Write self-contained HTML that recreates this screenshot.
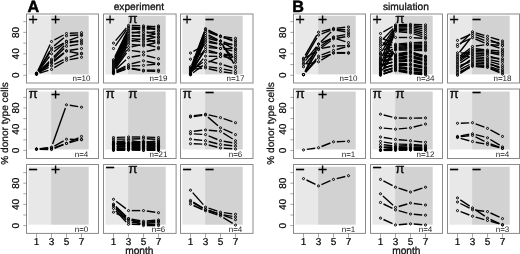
<!DOCTYPE html>
<html><head><meta charset="utf-8"><title>figure</title>
<style>.l{stroke:#000;stroke-width:1.4;fill:none}.c{fill:none;stroke:#000;stroke-width:1.0}html,body{margin:0;padding:0;background:#fff;}body{width:520px;height:254px;overflow:hidden;}</style>
</head><body>
<svg width="520" height="254" viewBox="0 0 520 254" style="display:block;will-change:transform;text-rendering:geometricPrecision">
<rect width="520" height="254" fill="#fff"/>
<rect x="28.40" y="15.75" width="22.70" height="58.65" fill="#e8e8e8"/>
<rect x="51.10" y="15.75" width="37.60" height="58.65" fill="#d2d2d2"/>
<rect x="26.50" y="14.00" width="72.0" height="69.00" fill="none" stroke="#8a8a8a" stroke-width="1"/>
<text x="33.00" y="24.65" font-family="Liberation Sans, sans-serif" font-size="16.5" text-anchor="middle" fill="#000" stroke="#000" stroke-width="0.15">+</text>
<text x="55.60" y="24.65" font-family="Liberation Sans, sans-serif" font-size="16.5" text-anchor="middle" fill="#000" stroke="#000" stroke-width="0.15">+</text>
<path d="M37.9 70.7L50.1 44.5" class="l"/>
<path d="M54.4 39.9L63.6 35.0" class="l"/>
<path d="M69.8 33.3L78.2 32.9" class="l"/>
<path d="M38.1 71.4L49.9 50.8" class="l"/>
<path d="M54.1 45.9L63.9 37.8" class="l"/>
<path d="M69.8 35.5L78.2 35.0" class="l"/>
<path d="M38.3 70.4L49.7 52.9" class="l"/>
<path d="M54.4 48.4L63.6 43.0" class="l"/>
<path d="M69.6 40.2L78.4 36.8" class="l"/>
<path d="M38.5 71.1L49.5 56.5" class="l"/>
<path d="M54.0 51.7L64.0 43.5" class="l"/>
<path d="M69.8 41.5L78.2 41.8" class="l"/>
<path d="M38.8 71.9L49.2 61.5" class="l"/>
<path d="M53.8 56.8L64.2 45.8" class="l"/>
<path d="M69.7 42.7L78.3 40.6" class="l"/>
<path d="M39.0 71.5L49.0 63.0" class="l"/>
<path d="M53.9 58.5L64.1 48.6" class="l"/>
<path d="M69.8 45.8L78.2 44.4" class="l"/>
<path d="M39.1 72.2L48.9 64.5" class="l"/>
<path d="M54.1 60.4L63.9 52.7" class="l"/>
<path d="M69.8 50.2L78.2 49.0" class="l"/>
<path d="M39.3 71.4L48.7 65.3" class="l"/>
<path d="M54.0 61.4L64.0 53.3" class="l"/>
<path d="M69.7 51.7L78.3 53.3" class="l"/>
<path d="M39.4 72.2L48.6 67.4" class="l"/>
<path d="M54.4 64.4L63.6 59.7" class="l"/>
<path d="M69.6 57.1L78.4 54.3" class="l"/>
<path d="M39.6 73.2L48.4 70.4" class="l"/>
<path d="M54.3 67.7L63.7 62.0" class="l"/>
<path d="M69.7 59.6L78.3 58.0" class="l"/>
<circle cx="36.5" cy="73.7" r="1.05" class="c"/>
<circle cx="51.5" cy="41.5" r="1.05" class="c"/>
<circle cx="66.5" cy="33.5" r="1.05" class="c"/>
<circle cx="81.5" cy="32.7" r="1.05" class="c"/>
<circle cx="36.5" cy="74.2" r="1.05" class="c"/>
<circle cx="51.5" cy="47.9" r="1.05" class="c"/>
<circle cx="66.5" cy="35.8" r="1.05" class="c"/>
<circle cx="81.5" cy="34.7" r="1.05" class="c"/>
<circle cx="36.5" cy="73.2" r="1.05" class="c"/>
<circle cx="51.5" cy="50.1" r="1.05" class="c"/>
<circle cx="66.5" cy="41.4" r="1.05" class="c"/>
<circle cx="81.5" cy="35.6" r="1.05" class="c"/>
<circle cx="36.5" cy="73.7" r="1.05" class="c"/>
<circle cx="51.5" cy="53.8" r="1.05" class="c"/>
<circle cx="66.5" cy="41.4" r="1.05" class="c"/>
<circle cx="81.5" cy="41.9" r="1.05" class="c"/>
<circle cx="36.5" cy="74.2" r="1.05" class="c"/>
<circle cx="51.5" cy="59.2" r="1.05" class="c"/>
<circle cx="66.5" cy="43.4" r="1.05" class="c"/>
<circle cx="81.5" cy="39.9" r="1.05" class="c"/>
<circle cx="36.5" cy="73.7" r="1.05" class="c"/>
<circle cx="51.5" cy="60.8" r="1.05" class="c"/>
<circle cx="66.5" cy="46.3" r="1.05" class="c"/>
<circle cx="81.5" cy="43.9" r="1.05" class="c"/>
<circle cx="36.5" cy="74.2" r="1.05" class="c"/>
<circle cx="51.5" cy="62.4" r="1.05" class="c"/>
<circle cx="66.5" cy="50.6" r="1.05" class="c"/>
<circle cx="81.5" cy="48.5" r="1.05" class="c"/>
<circle cx="36.5" cy="73.2" r="1.05" class="c"/>
<circle cx="51.5" cy="63.5" r="1.05" class="c"/>
<circle cx="66.5" cy="51.2" r="1.05" class="c"/>
<circle cx="81.5" cy="53.8" r="1.05" class="c"/>
<circle cx="36.5" cy="73.7" r="1.05" class="c"/>
<circle cx="51.5" cy="65.9" r="1.05" class="c"/>
<circle cx="66.5" cy="58.1" r="1.05" class="c"/>
<circle cx="81.5" cy="53.3" r="1.05" class="c"/>
<circle cx="36.5" cy="74.2" r="1.05" class="c"/>
<circle cx="51.5" cy="69.4" r="1.05" class="c"/>
<circle cx="66.5" cy="60.3" r="1.05" class="c"/>
<circle cx="81.5" cy="57.3" r="1.05" class="c"/>
<text x="81.50" y="81.20" font-family="Liberation Sans, sans-serif" font-size="8" text-anchor="middle" fill="#222">n=10</text>
<line x1="23.30" y1="75.30" x2="26.50" y2="75.30" stroke="#6a6a6a" stroke-width="0.6"/>
<line x1="23.30" y1="64.57" x2="26.50" y2="64.57" stroke="#6a6a6a" stroke-width="0.6"/>
<line x1="23.30" y1="53.84" x2="26.50" y2="53.84" stroke="#6a6a6a" stroke-width="0.6"/>
<line x1="23.30" y1="43.11" x2="26.50" y2="43.11" stroke="#6a6a6a" stroke-width="0.6"/>
<line x1="23.30" y1="32.38" x2="26.50" y2="32.38" stroke="#6a6a6a" stroke-width="0.6"/>
<line x1="23.30" y1="21.65" x2="26.50" y2="21.65" stroke="#6a6a6a" stroke-width="0.6"/>
<text transform="translate(19.30,75.30) rotate(-90)" font-family="Liberation Sans, sans-serif" font-size="10" text-anchor="middle" fill="#000" stroke="#000" stroke-width="0.2">0</text>
<text transform="translate(19.30,53.84) rotate(-90)" font-family="Liberation Sans, sans-serif" font-size="10" text-anchor="middle" fill="#000" stroke="#000" stroke-width="0.2">40</text>
<text transform="translate(19.30,32.38) rotate(-90)" font-family="Liberation Sans, sans-serif" font-size="10" text-anchor="middle" fill="#000" stroke="#000" stroke-width="0.2">80</text>
<rect x="105.40" y="15.75" width="22.70" height="58.65" fill="#e8e8e8"/>
<rect x="128.10" y="15.75" width="37.60" height="58.65" fill="#d2d2d2"/>
<rect x="103.50" y="14.00" width="72.6" height="69.00" fill="none" stroke="#8a8a8a" stroke-width="1"/>
<text x="110.00" y="24.65" font-family="Liberation Sans, sans-serif" font-size="16.5" text-anchor="middle" fill="#000" stroke="#000" stroke-width="0.15">+</text>
<text x="132.80" y="22.50" font-family="Liberation Sans, sans-serif" font-size="13.5" text-anchor="middle" fill="#000" stroke="#000" stroke-width="0.3">π</text>
<path d="M115.6 40.6L126.4 27.9" class="l"/>
<path d="M131.8 25.5L140.2 25.8" class="l"/>
<path d="M146.8 26.2L155.2 26.8" class="l"/>
<path d="M115.4 45.8L126.6 29.7" class="l"/>
<path d="M131.8 27.3L140.2 27.9" class="l"/>
<path d="M146.8 27.6L155.2 26.4" class="l"/>
<path d="M114.9 56.8L127.1 31.6" class="l"/>
<path d="M131.8 28.9L140.2 29.5" class="l"/>
<path d="M146.8 29.3L155.2 28.4" class="l"/>
<path d="M115.0 57.9L127.0 33.2" class="l"/>
<path d="M131.7 29.5L140.3 27.7" class="l"/>
<path d="M146.7 27.7L155.3 29.5" class="l"/>
<path d="M115.0 58.9L127.0 34.8" class="l"/>
<path d="M131.8 32.2L140.2 33.1" class="l"/>
<path d="M146.8 33.0L155.2 31.8" class="l"/>
<path d="M115.0 60.0L127.0 36.4" class="l"/>
<path d="M131.8 33.0L140.2 31.8" class="l"/>
<path d="M146.7 32.0L155.3 33.8" class="l"/>
<path d="M115.0 61.1L127.0 38.0" class="l"/>
<path d="M131.8 35.4L140.2 36.3" class="l"/>
<path d="M146.7 36.0L155.3 34.1" class="l"/>
<path d="M115.0 62.2L127.0 39.6" class="l"/>
<path d="M131.8 36.3L140.2 35.4" class="l"/>
<path d="M146.7 35.6L155.3 37.2" class="l"/>
<path d="M115.1 63.3L126.9 41.2" class="l"/>
<path d="M131.8 38.6L140.2 39.5" class="l"/>
<path d="M146.7 39.2L155.3 37.4" class="l"/>
<path d="M115.1 64.4L126.9 42.8" class="l"/>
<path d="M131.8 40.4L140.2 41.6" class="l"/>
<path d="M146.8 41.6L155.2 40.4" class="l"/>
<path d="M115.1 65.5L126.9 44.9" class="l"/>
<path d="M131.7 41.2L140.3 39.1" class="l"/>
<path d="M146.6 39.3L155.4 42.1" class="l"/>
<path d="M115.2 66.6L126.8 47.0" class="l"/>
<path d="M131.8 44.5L140.2 45.4" class="l"/>
<path d="M146.7 45.0L155.3 42.8" class="l"/>
<path d="M115.3 67.7L126.7 50.2" class="l"/>
<path d="M131.7 46.7L140.3 44.9" class="l"/>
<path d="M146.7 44.9L155.3 46.7" class="l"/>
<path d="M115.4 68.3L126.6 52.8" class="l"/>
<path d="M131.8 50.6L140.2 51.8" class="l"/>
<path d="M146.7 51.5L155.3 49.5" class="l"/>
<path d="M115.9 69.3L126.1 59.8" class="l"/>
<path d="M131.7 57.0L140.3 55.5" class="l"/>
<path d="M146.7 55.7L155.3 57.9" class="l"/>
<path d="M116.5 70.6L125.5 66.0" class="l"/>
<path d="M131.7 63.8L140.3 61.6" class="l"/>
<path d="M146.7 61.5L155.3 63.3" class="l"/>
<path d="M116.5 71.3L125.5 67.5" class="l"/>
<path d="M131.8 66.0L140.2 65.6" class="l"/>
<path d="M146.8 65.1L155.2 64.3" class="l"/>
<path d="M116.6 72.1L125.4 69.1" class="l"/>
<path d="M131.8 68.5L140.2 69.7" class="l"/>
<path d="M146.8 70.2L155.2 70.2" class="l"/>
<path d="M116.6 72.6L125.4 69.4" class="l"/>
<path d="M131.7 68.9L140.3 70.4" class="l"/>
<path d="M146.8 71.1L155.2 71.4" class="l"/>
<circle cx="113.5" cy="43.1" r="1.05" class="c"/>
<circle cx="128.5" cy="25.4" r="1.05" class="c"/>
<circle cx="143.5" cy="25.9" r="1.05" class="c"/>
<circle cx="158.5" cy="27.0" r="1.05" class="c"/>
<circle cx="113.5" cy="48.5" r="1.05" class="c"/>
<circle cx="128.5" cy="27.0" r="1.05" class="c"/>
<circle cx="143.5" cy="28.1" r="1.05" class="c"/>
<circle cx="158.5" cy="25.9" r="1.05" class="c"/>
<circle cx="113.5" cy="59.7" r="1.05" class="c"/>
<circle cx="128.5" cy="28.6" r="1.05" class="c"/>
<circle cx="143.5" cy="29.7" r="1.05" class="c"/>
<circle cx="158.5" cy="28.1" r="1.05" class="c"/>
<circle cx="113.5" cy="60.8" r="1.05" class="c"/>
<circle cx="128.5" cy="30.2" r="1.05" class="c"/>
<circle cx="143.5" cy="27.0" r="1.05" class="c"/>
<circle cx="158.5" cy="30.2" r="1.05" class="c"/>
<circle cx="113.5" cy="61.9" r="1.05" class="c"/>
<circle cx="128.5" cy="31.8" r="1.05" class="c"/>
<circle cx="143.5" cy="33.5" r="1.05" class="c"/>
<circle cx="158.5" cy="31.3" r="1.05" class="c"/>
<circle cx="113.5" cy="63.0" r="1.05" class="c"/>
<circle cx="128.5" cy="33.5" r="1.05" class="c"/>
<circle cx="143.5" cy="31.3" r="1.05" class="c"/>
<circle cx="158.5" cy="34.5" r="1.05" class="c"/>
<circle cx="113.5" cy="64.0" r="1.05" class="c"/>
<circle cx="128.5" cy="35.1" r="1.05" class="c"/>
<circle cx="143.5" cy="36.7" r="1.05" class="c"/>
<circle cx="158.5" cy="33.5" r="1.05" class="c"/>
<circle cx="113.5" cy="65.1" r="1.05" class="c"/>
<circle cx="128.5" cy="36.7" r="1.05" class="c"/>
<circle cx="143.5" cy="35.1" r="1.05" class="c"/>
<circle cx="158.5" cy="37.7" r="1.05" class="c"/>
<circle cx="113.5" cy="66.2" r="1.05" class="c"/>
<circle cx="128.5" cy="38.3" r="1.05" class="c"/>
<circle cx="143.5" cy="39.9" r="1.05" class="c"/>
<circle cx="158.5" cy="36.7" r="1.05" class="c"/>
<circle cx="113.5" cy="67.3" r="1.05" class="c"/>
<circle cx="128.5" cy="39.9" r="1.05" class="c"/>
<circle cx="143.5" cy="42.0" r="1.05" class="c"/>
<circle cx="158.5" cy="39.9" r="1.05" class="c"/>
<circle cx="113.5" cy="68.3" r="1.05" class="c"/>
<circle cx="128.5" cy="42.0" r="1.05" class="c"/>
<circle cx="143.5" cy="38.3" r="1.05" class="c"/>
<circle cx="158.5" cy="43.1" r="1.05" class="c"/>
<circle cx="113.5" cy="69.4" r="1.05" class="c"/>
<circle cx="128.5" cy="44.2" r="1.05" class="c"/>
<circle cx="143.5" cy="45.8" r="1.05" class="c"/>
<circle cx="158.5" cy="42.0" r="1.05" class="c"/>
<circle cx="113.5" cy="70.5" r="1.05" class="c"/>
<circle cx="128.5" cy="47.4" r="1.05" class="c"/>
<circle cx="143.5" cy="44.2" r="1.05" class="c"/>
<circle cx="158.5" cy="47.4" r="1.05" class="c"/>
<circle cx="113.5" cy="71.0" r="1.05" class="c"/>
<circle cx="128.5" cy="50.1" r="1.05" class="c"/>
<circle cx="143.5" cy="52.2" r="1.05" class="c"/>
<circle cx="158.5" cy="48.7" r="1.05" class="c"/>
<circle cx="113.5" cy="71.5" r="1.05" class="c"/>
<circle cx="128.5" cy="57.6" r="1.05" class="c"/>
<circle cx="143.5" cy="54.9" r="1.05" class="c"/>
<circle cx="158.5" cy="58.7" r="1.05" class="c"/>
<circle cx="113.5" cy="72.1" r="1.05" class="c"/>
<circle cx="128.5" cy="64.6" r="1.05" class="c"/>
<circle cx="143.5" cy="60.8" r="1.05" class="c"/>
<circle cx="158.5" cy="64.0" r="1.05" class="c"/>
<circle cx="113.5" cy="72.6" r="1.05" class="c"/>
<circle cx="128.5" cy="66.2" r="1.05" class="c"/>
<circle cx="143.5" cy="65.4" r="1.05" class="c"/>
<circle cx="158.5" cy="64.0" r="1.05" class="c"/>
<circle cx="113.5" cy="73.2" r="1.05" class="c"/>
<circle cx="128.5" cy="68.1" r="1.05" class="c"/>
<circle cx="143.5" cy="70.2" r="1.05" class="c"/>
<circle cx="158.5" cy="70.2" r="1.05" class="c"/>
<circle cx="113.5" cy="73.7" r="1.05" class="c"/>
<circle cx="128.5" cy="68.3" r="1.05" class="c"/>
<circle cx="143.5" cy="71.0" r="1.05" class="c"/>
<circle cx="158.5" cy="71.5" r="1.05" class="c"/>
<text x="158.50" y="81.20" font-family="Liberation Sans, sans-serif" font-size="8" text-anchor="middle" fill="#222">n=19</text>
<rect x="182.40" y="15.75" width="22.70" height="58.65" fill="#e8e8e8"/>
<rect x="205.10" y="15.75" width="37.60" height="58.65" fill="#d2d2d2"/>
<rect x="180.50" y="14.00" width="72.5" height="69.00" fill="none" stroke="#8a8a8a" stroke-width="1"/>
<text x="187.00" y="24.65" font-family="Liberation Sans, sans-serif" font-size="16.5" text-anchor="middle" fill="#000" stroke="#000" stroke-width="0.15">+</text>
<text x="209.60" y="24.65" font-family="Liberation Sans, sans-serif" font-size="16.5" text-anchor="middle" fill="#000" stroke="#000" stroke-width="0.15">−</text>
<path d="M191.7 65.3L204.3 31.7" class="l"/>
<path d="M208.5 30.1L217.5 34.7" class="l"/>
<path d="M223.8 36.6L232.2 37.9" class="l"/>
<path d="M191.6 68.4L204.4 32.8" class="l"/>
<path d="M208.5 31.0L217.5 34.8" class="l"/>
<path d="M223.6 37.3L232.4 40.8" class="l"/>
<path d="M191.7 66.9L204.3 34.4" class="l"/>
<path d="M208.6 32.4L217.4 35.6" class="l"/>
<path d="M223.7 37.5L232.3 39.6" class="l"/>
<path d="M191.7 70.6L204.3 36.5" class="l"/>
<path d="M208.5 34.9L217.5 39.5" class="l"/>
<path d="M223.6 42.0L232.4 45.0" class="l"/>
<path d="M191.7 69.6L204.3 38.7" class="l"/>
<path d="M208.6 36.7L217.4 39.9" class="l"/>
<path d="M222.2 43.8L233.8 63.6" class="l"/>
<path d="M191.9 67.5L204.1 40.7" class="l"/>
<path d="M208.7 38.5L217.3 40.7" class="l"/>
<path d="M223.4 43.1L232.6 48.1" class="l"/>
<path d="M191.8 71.5L204.2 42.9" class="l"/>
<path d="M208.7 40.8L217.3 43.3" class="l"/>
<path d="M223.8 44.2L232.2 44.2" class="l"/>
<path d="M192.2 64.9L203.8 44.9" class="l"/>
<path d="M208.8 42.5L217.2 43.7" class="l"/>
<path d="M222.8 46.6L233.2 57.4" class="l"/>
<path d="M193.4 51.4L202.6 46.3" class="l"/>
<path d="M208.7 45.5L217.3 47.7" class="l"/>
<path d="M223.7 49.1L232.3 50.9" class="l"/>
<path d="M192.1 71.3L203.9 50.3" class="l"/>
<path d="M208.8 47.6L217.2 48.2" class="l"/>
<path d="M223.8 48.5L232.2 48.6" class="l"/>
<path d="M192.3 69.3L203.7 52.3" class="l"/>
<path d="M208.7 50.5L217.3 52.9" class="l"/>
<path d="M223.8 54.2L232.2 55.3" class="l"/>
<path d="M193.5 57.7L202.5 53.2" class="l"/>
<path d="M208.8 52.2L217.2 53.4" class="l"/>
<path d="M223.4 55.5L232.6 60.7" class="l"/>
<path d="M192.7 70.7L203.3 58.6" class="l"/>
<path d="M208.8 56.2L217.2 56.4" class="l"/>
<path d="M223.7 55.9L232.3 54.3" class="l"/>
<path d="M193.2 69.1L202.8 62.2" class="l"/>
<path d="M208.7 61.1L217.3 63.2" class="l"/>
<path d="M223.7 65.0L232.3 67.5" class="l"/>
<path d="M193.1 72.8L202.9 65.5" class="l"/>
<path d="M208.5 62.1L217.5 57.9" class="l"/>
<path d="M223.8 56.8L232.2 57.4" class="l"/>
<path d="M193.8 66.6L202.2 66.5" class="l"/>
<path d="M208.8 66.9L217.2 68.0" class="l"/>
<path d="M223.7 69.1L232.3 70.9" class="l"/>
<path d="M193.8 69.1L202.2 68.2" class="l"/>
<path d="M208.7 68.7L217.3 70.8" class="l"/>
<path d="M223.8 72.0L232.2 73.1" class="l"/>
<circle cx="190.5" cy="68.4" r="1.05" class="c"/>
<circle cx="205.5" cy="28.6" r="1.05" class="c"/>
<circle cx="220.5" cy="36.1" r="1.05" class="c"/>
<circle cx="235.5" cy="38.3" r="1.05" class="c"/>
<circle cx="190.5" cy="71.5" r="1.05" class="c"/>
<circle cx="205.5" cy="29.7" r="1.05" class="c"/>
<circle cx="220.5" cy="36.1" r="1.05" class="c"/>
<circle cx="235.5" cy="42.0" r="1.05" class="c"/>
<circle cx="190.5" cy="69.9" r="1.05" class="c"/>
<circle cx="205.5" cy="31.3" r="1.05" class="c"/>
<circle cx="220.5" cy="36.7" r="1.05" class="c"/>
<circle cx="235.5" cy="40.4" r="1.05" class="c"/>
<circle cx="190.5" cy="73.7" r="1.05" class="c"/>
<circle cx="205.5" cy="33.5" r="1.05" class="c"/>
<circle cx="220.5" cy="41.0" r="1.05" class="c"/>
<circle cx="235.5" cy="46.0" r="1.05" class="c"/>
<circle cx="190.5" cy="72.6" r="1.05" class="c"/>
<circle cx="205.5" cy="35.6" r="1.05" class="c"/>
<circle cx="220.5" cy="41.0" r="1.05" class="c"/>
<circle cx="235.5" cy="66.4" r="1.05" class="c"/>
<circle cx="190.5" cy="70.5" r="1.05" class="c"/>
<circle cx="205.5" cy="37.7" r="1.05" class="c"/>
<circle cx="220.5" cy="41.5" r="1.05" class="c"/>
<circle cx="235.5" cy="49.7" r="1.05" class="c"/>
<circle cx="190.5" cy="74.5" r="1.05" class="c"/>
<circle cx="205.5" cy="39.9" r="1.05" class="c"/>
<circle cx="220.5" cy="44.2" r="1.05" class="c"/>
<circle cx="235.5" cy="44.2" r="1.05" class="c"/>
<circle cx="190.5" cy="67.8" r="1.05" class="c"/>
<circle cx="205.5" cy="42.0" r="1.05" class="c"/>
<circle cx="220.5" cy="44.2" r="1.05" class="c"/>
<circle cx="235.5" cy="59.7" r="1.05" class="c"/>
<circle cx="190.5" cy="53.0" r="1.05" class="c"/>
<circle cx="205.5" cy="44.7" r="1.05" class="c"/>
<circle cx="220.5" cy="48.5" r="1.05" class="c"/>
<circle cx="235.5" cy="51.5" r="1.05" class="c"/>
<circle cx="190.5" cy="74.2" r="1.05" class="c"/>
<circle cx="205.5" cy="47.4" r="1.05" class="c"/>
<circle cx="220.5" cy="48.5" r="1.05" class="c"/>
<circle cx="235.5" cy="48.6" r="1.05" class="c"/>
<circle cx="190.5" cy="72.1" r="1.05" class="c"/>
<circle cx="205.5" cy="49.5" r="1.05" class="c"/>
<circle cx="220.5" cy="53.8" r="1.05" class="c"/>
<circle cx="235.5" cy="55.7" r="1.05" class="c"/>
<circle cx="190.5" cy="59.2" r="1.05" class="c"/>
<circle cx="205.5" cy="51.7" r="1.05" class="c"/>
<circle cx="220.5" cy="53.8" r="1.05" class="c"/>
<circle cx="235.5" cy="62.3" r="1.05" class="c"/>
<circle cx="190.5" cy="73.2" r="1.05" class="c"/>
<circle cx="205.5" cy="56.1" r="1.05" class="c"/>
<circle cx="220.5" cy="56.5" r="1.05" class="c"/>
<circle cx="235.5" cy="53.6" r="1.05" class="c"/>
<circle cx="190.5" cy="71.0" r="1.05" class="c"/>
<circle cx="205.5" cy="60.3" r="1.05" class="c"/>
<circle cx="220.5" cy="64.0" r="1.05" class="c"/>
<circle cx="235.5" cy="68.4" r="1.05" class="c"/>
<circle cx="190.5" cy="74.8" r="1.05" class="c"/>
<circle cx="205.5" cy="63.5" r="1.05" class="c"/>
<circle cx="220.5" cy="56.5" r="1.05" class="c"/>
<circle cx="235.5" cy="57.7" r="1.05" class="c"/>
<circle cx="190.5" cy="66.7" r="1.05" class="c"/>
<circle cx="205.5" cy="66.4" r="1.05" class="c"/>
<circle cx="220.5" cy="68.5" r="1.05" class="c"/>
<circle cx="235.5" cy="71.5" r="1.05" class="c"/>
<circle cx="190.5" cy="69.4" r="1.05" class="c"/>
<circle cx="205.5" cy="67.9" r="1.05" class="c"/>
<circle cx="220.5" cy="71.5" r="1.05" class="c"/>
<circle cx="235.5" cy="73.5" r="1.05" class="c"/>
<text x="235.50" y="81.20" font-family="Liberation Sans, sans-serif" font-size="8" text-anchor="middle" fill="#222">n=17</text>
<rect x="28.40" y="91.57" width="22.70" height="57.93" fill="#e8e8e8"/>
<rect x="51.10" y="91.57" width="37.60" height="57.93" fill="#d2d2d2"/>
<rect x="26.50" y="89.00" width="72.0" height="69.50" fill="none" stroke="#8a8a8a" stroke-width="1"/>
<text x="33.20" y="98.00" font-family="Liberation Sans, sans-serif" font-size="13.5" text-anchor="middle" fill="#000" stroke="#000" stroke-width="0.3">π</text>
<text x="55.60" y="99.85" font-family="Liberation Sans, sans-serif" font-size="16.5" text-anchor="middle" fill="#000" stroke="#000" stroke-width="0.15">+</text>
<path d="M39.8 148.9L48.2 147.6" class="l"/>
<path d="M52.6 144.1L65.4 107.9" class="l"/>
<path d="M69.8 105.3L78.2 106.6" class="l"/>
<path d="M39.8 148.6L48.2 148.0" class="l"/>
<path d="M54.4 146.1L63.6 140.9" class="l"/>
<path d="M69.8 139.3L78.2 139.6" class="l"/>
<path d="M39.8 149.2L48.2 148.9" class="l"/>
<path d="M54.6 147.7L63.4 144.5" class="l"/>
<path d="M69.5 142.0L78.5 137.8" class="l"/>
<path d="M39.8 149.2L48.2 149.5" class="l"/>
<path d="M54.6 148.3L63.4 144.7" class="l"/>
<path d="M69.7 142.6L78.3 140.2" class="l"/>
<circle cx="36.5" cy="149.3" r="1.05" class="c"/>
<circle cx="51.5" cy="147.2" r="1.05" class="c"/>
<circle cx="66.5" cy="104.8" r="1.05" class="c"/>
<circle cx="81.5" cy="107.2" r="1.05" class="c"/>
<circle cx="36.5" cy="148.8" r="1.05" class="c"/>
<circle cx="51.5" cy="147.7" r="1.05" class="c"/>
<circle cx="66.5" cy="139.2" r="1.05" class="c"/>
<circle cx="81.5" cy="139.7" r="1.05" class="c"/>
<circle cx="36.5" cy="149.3" r="1.05" class="c"/>
<circle cx="51.5" cy="148.8" r="1.05" class="c"/>
<circle cx="66.5" cy="143.4" r="1.05" class="c"/>
<circle cx="81.5" cy="136.4" r="1.05" class="c"/>
<circle cx="36.5" cy="149.1" r="1.05" class="c"/>
<circle cx="51.5" cy="149.6" r="1.05" class="c"/>
<circle cx="66.5" cy="143.4" r="1.05" class="c"/>
<circle cx="81.5" cy="139.4" r="1.05" class="c"/>
<text x="81.50" y="156.70" font-family="Liberation Sans, sans-serif" font-size="8" text-anchor="middle" fill="#222">n=4</text>
<line x1="23.30" y1="150.40" x2="26.50" y2="150.40" stroke="#6a6a6a" stroke-width="0.6"/>
<line x1="23.30" y1="139.80" x2="26.50" y2="139.80" stroke="#6a6a6a" stroke-width="0.6"/>
<line x1="23.30" y1="129.20" x2="26.50" y2="129.20" stroke="#6a6a6a" stroke-width="0.6"/>
<line x1="23.30" y1="118.60" x2="26.50" y2="118.60" stroke="#6a6a6a" stroke-width="0.6"/>
<line x1="23.30" y1="108.00" x2="26.50" y2="108.00" stroke="#6a6a6a" stroke-width="0.6"/>
<line x1="23.30" y1="97.40" x2="26.50" y2="97.40" stroke="#6a6a6a" stroke-width="0.6"/>
<text transform="translate(19.30,150.40) rotate(-90)" font-family="Liberation Sans, sans-serif" font-size="10" text-anchor="middle" fill="#000" stroke="#000" stroke-width="0.2">0</text>
<text transform="translate(19.30,129.20) rotate(-90)" font-family="Liberation Sans, sans-serif" font-size="10" text-anchor="middle" fill="#000" stroke="#000" stroke-width="0.2">40</text>
<text transform="translate(19.30,108.00) rotate(-90)" font-family="Liberation Sans, sans-serif" font-size="10" text-anchor="middle" fill="#000" stroke="#000" stroke-width="0.2">80</text>
<rect x="105.40" y="91.57" width="22.70" height="57.93" fill="#e8e8e8"/>
<rect x="128.10" y="91.57" width="37.60" height="57.93" fill="#d2d2d2"/>
<rect x="103.50" y="89.00" width="72.6" height="69.50" fill="none" stroke="#8a8a8a" stroke-width="1"/>
<text x="110.20" y="98.00" font-family="Liberation Sans, sans-serif" font-size="13.5" text-anchor="middle" fill="#000" stroke="#000" stroke-width="0.3">π</text>
<text x="132.80" y="98.00" font-family="Liberation Sans, sans-serif" font-size="13.5" text-anchor="middle" fill="#000" stroke="#000" stroke-width="0.3">π</text>
<path d="M116.8 137.4L125.2 137.1" class="l"/>
<path d="M131.8 137.0L140.2 137.0" class="l"/>
<path d="M146.8 137.1L155.2 137.4" class="l"/>
<path d="M116.8 139.1L125.2 139.1" class="l"/>
<path d="M131.8 139.0L140.2 138.7" class="l"/>
<path d="M146.8 138.8L155.2 139.2" class="l"/>
<path d="M116.8 150.4L125.2 150.3" class="l"/>
<path d="M131.8 150.0L140.2 149.5" class="l"/>
<path d="M146.8 149.5L155.2 150.2" class="l"/>
<path d="M116.8 149.8L125.2 149.7" class="l"/>
<path d="M131.8 149.8L140.2 150.2" class="l"/>
<path d="M146.8 150.3L155.2 150.0" class="l"/>
<path d="M116.8 148.9L125.2 148.7" class="l"/>
<path d="M131.8 149.0L140.2 150.0" class="l"/>
<path d="M146.8 150.3L155.2 150.0" class="l"/>
<path d="M116.8 149.6L125.2 148.5" class="l"/>
<path d="M131.8 148.1L140.2 148.3" class="l"/>
<path d="M146.8 148.7L155.2 149.7" class="l"/>
<path d="M116.8 147.1L125.2 147.1" class="l"/>
<path d="M131.8 147.3L140.2 147.8" class="l"/>
<path d="M146.8 148.0L155.2 148.0" class="l"/>
<path d="M116.8 148.9L125.2 149.1" class="l"/>
<path d="M131.8 148.9L140.2 148.1" class="l"/>
<path d="M146.8 148.1L155.2 148.8" class="l"/>
<path d="M116.8 148.2L125.2 148.1" class="l"/>
<path d="M131.8 148.2L140.2 148.5" class="l"/>
<path d="M146.8 148.4L155.2 147.7" class="l"/>
<path d="M116.8 146.8L125.2 146.2" class="l"/>
<path d="M131.8 146.1L140.2 146.6" class="l"/>
<path d="M146.8 146.7L155.2 146.5" class="l"/>
<path d="M116.8 146.2L125.2 146.0" class="l"/>
<path d="M131.8 146.0L140.2 146.3" class="l"/>
<path d="M146.8 146.6L155.2 146.8" class="l"/>
<path d="M116.8 144.5L125.2 144.5" class="l"/>
<path d="M131.8 144.6L140.2 144.8" class="l"/>
<path d="M146.8 145.0L155.2 145.2" class="l"/>
<path d="M116.8 145.9L125.2 146.0" class="l"/>
<path d="M131.8 146.0L140.2 145.9" class="l"/>
<path d="M146.8 146.0L155.2 146.4" class="l"/>
<path d="M116.8 144.3L125.2 144.9" class="l"/>
<path d="M131.8 144.8L140.2 144.2" class="l"/>
<path d="M146.8 144.2L155.2 144.9" class="l"/>
<path d="M116.8 143.1L125.2 143.3" class="l"/>
<path d="M131.8 143.9L140.2 145.2" class="l"/>
<path d="M146.8 145.5L155.2 145.2" class="l"/>
<path d="M116.8 143.0L125.2 143.6" class="l"/>
<path d="M131.8 143.6L140.2 142.8" class="l"/>
<path d="M146.8 142.9L155.2 143.7" class="l"/>
<path d="M116.8 144.1L125.2 143.3" class="l"/>
<path d="M131.8 142.9L140.2 142.6" class="l"/>
<path d="M146.8 142.9L155.2 143.6" class="l"/>
<path d="M116.8 143.8L125.2 143.4" class="l"/>
<path d="M131.8 142.9L140.2 141.9" class="l"/>
<path d="M146.8 141.7L155.2 142.0" class="l"/>
<path d="M116.8 143.2L125.2 143.0" class="l"/>
<path d="M131.8 143.1L140.2 143.3" class="l"/>
<path d="M146.8 143.4L155.2 143.4" class="l"/>
<path d="M116.8 141.3L125.2 142.3" class="l"/>
<path d="M131.8 142.4L140.2 141.8" class="l"/>
<path d="M146.8 141.7L155.2 141.9" class="l"/>
<path d="M116.8 141.8L125.2 141.0" class="l"/>
<path d="M131.8 141.0L140.2 141.9" class="l"/>
<path d="M146.8 142.0L155.2 141.2" class="l"/>
<circle cx="113.5" cy="137.5" r="1.05" class="c"/>
<circle cx="128.5" cy="137.0" r="1.05" class="c"/>
<circle cx="143.5" cy="137.0" r="1.05" class="c"/>
<circle cx="158.5" cy="137.5" r="1.05" class="c"/>
<circle cx="113.5" cy="139.1" r="1.05" class="c"/>
<circle cx="128.5" cy="139.1" r="1.05" class="c"/>
<circle cx="143.5" cy="138.6" r="1.05" class="c"/>
<circle cx="158.5" cy="139.4" r="1.05" class="c"/>
<circle cx="113.5" cy="150.4" r="1.05" class="c"/>
<circle cx="128.5" cy="150.2" r="1.05" class="c"/>
<circle cx="143.5" cy="149.3" r="1.05" class="c"/>
<circle cx="158.5" cy="150.4" r="1.05" class="c"/>
<circle cx="113.5" cy="149.9" r="1.05" class="c"/>
<circle cx="128.5" cy="149.7" r="1.05" class="c"/>
<circle cx="143.5" cy="150.4" r="1.05" class="c"/>
<circle cx="158.5" cy="149.9" r="1.05" class="c"/>
<circle cx="113.5" cy="149.0" r="1.05" class="c"/>
<circle cx="128.5" cy="148.6" r="1.05" class="c"/>
<circle cx="143.5" cy="150.4" r="1.05" class="c"/>
<circle cx="158.5" cy="149.9" r="1.05" class="c"/>
<circle cx="113.5" cy="150.0" r="1.05" class="c"/>
<circle cx="128.5" cy="148.0" r="1.05" class="c"/>
<circle cx="143.5" cy="148.4" r="1.05" class="c"/>
<circle cx="158.5" cy="150.1" r="1.05" class="c"/>
<circle cx="113.5" cy="147.1" r="1.05" class="c"/>
<circle cx="128.5" cy="147.1" r="1.05" class="c"/>
<circle cx="143.5" cy="148.0" r="1.05" class="c"/>
<circle cx="158.5" cy="148.1" r="1.05" class="c"/>
<circle cx="113.5" cy="148.8" r="1.05" class="c"/>
<circle cx="128.5" cy="149.2" r="1.05" class="c"/>
<circle cx="143.5" cy="147.8" r="1.05" class="c"/>
<circle cx="158.5" cy="149.0" r="1.05" class="c"/>
<circle cx="113.5" cy="148.2" r="1.05" class="c"/>
<circle cx="128.5" cy="148.0" r="1.05" class="c"/>
<circle cx="143.5" cy="148.6" r="1.05" class="c"/>
<circle cx="158.5" cy="147.5" r="1.05" class="c"/>
<circle cx="113.5" cy="147.0" r="1.05" class="c"/>
<circle cx="128.5" cy="145.9" r="1.05" class="c"/>
<circle cx="143.5" cy="146.8" r="1.05" class="c"/>
<circle cx="158.5" cy="146.5" r="1.05" class="c"/>
<circle cx="113.5" cy="146.3" r="1.05" class="c"/>
<circle cx="128.5" cy="145.9" r="1.05" class="c"/>
<circle cx="143.5" cy="146.5" r="1.05" class="c"/>
<circle cx="158.5" cy="146.9" r="1.05" class="c"/>
<circle cx="113.5" cy="144.5" r="1.05" class="c"/>
<circle cx="128.5" cy="144.5" r="1.05" class="c"/>
<circle cx="143.5" cy="144.9" r="1.05" class="c"/>
<circle cx="158.5" cy="145.3" r="1.05" class="c"/>
<circle cx="113.5" cy="145.8" r="1.05" class="c"/>
<circle cx="128.5" cy="146.1" r="1.05" class="c"/>
<circle cx="143.5" cy="145.9" r="1.05" class="c"/>
<circle cx="158.5" cy="146.5" r="1.05" class="c"/>
<circle cx="113.5" cy="144.1" r="1.05" class="c"/>
<circle cx="128.5" cy="145.1" r="1.05" class="c"/>
<circle cx="143.5" cy="143.9" r="1.05" class="c"/>
<circle cx="158.5" cy="145.1" r="1.05" class="c"/>
<circle cx="113.5" cy="143.1" r="1.05" class="c"/>
<circle cx="128.5" cy="143.4" r="1.05" class="c"/>
<circle cx="143.5" cy="145.7" r="1.05" class="c"/>
<circle cx="158.5" cy="145.1" r="1.05" class="c"/>
<circle cx="113.5" cy="142.7" r="1.05" class="c"/>
<circle cx="128.5" cy="143.9" r="1.05" class="c"/>
<circle cx="143.5" cy="142.5" r="1.05" class="c"/>
<circle cx="158.5" cy="144.1" r="1.05" class="c"/>
<circle cx="113.5" cy="144.4" r="1.05" class="c"/>
<circle cx="128.5" cy="143.0" r="1.05" class="c"/>
<circle cx="143.5" cy="142.6" r="1.05" class="c"/>
<circle cx="158.5" cy="143.9" r="1.05" class="c"/>
<circle cx="113.5" cy="143.9" r="1.05" class="c"/>
<circle cx="128.5" cy="143.2" r="1.05" class="c"/>
<circle cx="143.5" cy="141.5" r="1.05" class="c"/>
<circle cx="158.5" cy="142.1" r="1.05" class="c"/>
<circle cx="113.5" cy="143.3" r="1.05" class="c"/>
<circle cx="128.5" cy="143.0" r="1.05" class="c"/>
<circle cx="143.5" cy="143.4" r="1.05" class="c"/>
<circle cx="158.5" cy="143.5" r="1.05" class="c"/>
<circle cx="113.5" cy="141.0" r="1.05" class="c"/>
<circle cx="128.5" cy="142.6" r="1.05" class="c"/>
<circle cx="143.5" cy="141.6" r="1.05" class="c"/>
<circle cx="158.5" cy="141.9" r="1.05" class="c"/>
<circle cx="113.5" cy="142.1" r="1.05" class="c"/>
<circle cx="128.5" cy="140.6" r="1.05" class="c"/>
<circle cx="143.5" cy="142.3" r="1.05" class="c"/>
<circle cx="158.5" cy="140.9" r="1.05" class="c"/>
<text x="158.50" y="156.70" font-family="Liberation Sans, sans-serif" font-size="8" text-anchor="middle" fill="#222">n=21</text>
<rect x="182.40" y="91.57" width="22.70" height="57.93" fill="#e8e8e8"/>
<rect x="205.10" y="91.57" width="37.60" height="57.93" fill="#d2d2d2"/>
<rect x="180.50" y="89.00" width="72.5" height="69.50" fill="none" stroke="#8a8a8a" stroke-width="1"/>
<text x="187.20" y="98.00" font-family="Liberation Sans, sans-serif" font-size="13.5" text-anchor="middle" fill="#000" stroke="#000" stroke-width="0.3">π</text>
<text x="209.60" y="98.45" font-family="Liberation Sans, sans-serif" font-size="16.5" text-anchor="middle" fill="#000" stroke="#000" stroke-width="0.15">−</text>
<path d="M193.8 115.6L202.2 114.6" class="l"/>
<path d="M208.7 114.9L217.3 116.9" class="l"/>
<path d="M223.6 118.7L232.4 121.7" class="l"/>
<path d="M193.8 116.6L202.2 115.4" class="l"/>
<path d="M208.0 117.1L218.0 125.7" class="l"/>
<path d="M223.5 129.2L232.5 133.2" class="l"/>
<path d="M193.8 131.3L202.2 130.3" class="l"/>
<path d="M208.8 130.3L217.2 131.0" class="l"/>
<path d="M223.3 133.1L232.7 139.0" class="l"/>
<path d="M193.8 133.9L202.2 134.4" class="l"/>
<path d="M208.6 135.8L217.4 139.5" class="l"/>
<path d="M223.7 141.3L232.3 142.8" class="l"/>
<path d="M193.8 139.5L202.2 140.4" class="l"/>
<path d="M208.7 141.5L217.3 143.7" class="l"/>
<path d="M223.8 144.8L232.2 145.8" class="l"/>
<path d="M193.8 143.8L202.2 144.1" class="l"/>
<path d="M208.7 145.0L217.3 147.2" class="l"/>
<path d="M223.8 148.2L232.2 148.8" class="l"/>
<circle cx="190.5" cy="116.0" r="1.05" class="c"/>
<circle cx="205.5" cy="114.2" r="1.05" class="c"/>
<circle cx="220.5" cy="117.6" r="1.05" class="c"/>
<circle cx="235.5" cy="122.7" r="1.05" class="c"/>
<circle cx="190.5" cy="117.1" r="1.05" class="c"/>
<circle cx="205.5" cy="115.0" r="1.05" class="c"/>
<circle cx="220.5" cy="127.8" r="1.05" class="c"/>
<circle cx="235.5" cy="134.6" r="1.05" class="c"/>
<circle cx="190.5" cy="131.6" r="1.05" class="c"/>
<circle cx="205.5" cy="130.0" r="1.05" class="c"/>
<circle cx="220.5" cy="131.3" r="1.05" class="c"/>
<circle cx="235.5" cy="140.7" r="1.05" class="c"/>
<circle cx="190.5" cy="133.8" r="1.05" class="c"/>
<circle cx="205.5" cy="134.6" r="1.05" class="c"/>
<circle cx="220.5" cy="140.7" r="1.05" class="c"/>
<circle cx="235.5" cy="143.4" r="1.05" class="c"/>
<circle cx="190.5" cy="139.1" r="1.05" class="c"/>
<circle cx="205.5" cy="140.7" r="1.05" class="c"/>
<circle cx="220.5" cy="144.5" r="1.05" class="c"/>
<circle cx="235.5" cy="146.1" r="1.05" class="c"/>
<circle cx="190.5" cy="143.7" r="1.05" class="c"/>
<circle cx="205.5" cy="144.2" r="1.05" class="c"/>
<circle cx="220.5" cy="148.0" r="1.05" class="c"/>
<circle cx="235.5" cy="149.1" r="1.05" class="c"/>
<text x="235.50" y="156.70" font-family="Liberation Sans, sans-serif" font-size="8" text-anchor="middle" fill="#222">n=6</text>
<rect x="28.40" y="166.77" width="22.70" height="57.93" fill="#e8e8e8"/>
<rect x="51.10" y="166.77" width="37.60" height="57.93" fill="#d2d2d2"/>
<rect x="26.50" y="164.50" width="72.0" height="68.90" fill="none" stroke="#8a8a8a" stroke-width="1"/>
<text x="33.00" y="175.05" font-family="Liberation Sans, sans-serif" font-size="16.5" text-anchor="middle" fill="#000" stroke="#000" stroke-width="0.15">−</text>
<text x="55.60" y="175.05" font-family="Liberation Sans, sans-serif" font-size="16.5" text-anchor="middle" fill="#000" stroke="#000" stroke-width="0.15">+</text>
<text x="81.50" y="231.60" font-family="Liberation Sans, sans-serif" font-size="8" text-anchor="middle" fill="#222">n=0</text>
<line x1="23.30" y1="225.60" x2="26.50" y2="225.60" stroke="#6a6a6a" stroke-width="0.6"/>
<line x1="23.30" y1="215.00" x2="26.50" y2="215.00" stroke="#6a6a6a" stroke-width="0.6"/>
<line x1="23.30" y1="204.40" x2="26.50" y2="204.40" stroke="#6a6a6a" stroke-width="0.6"/>
<line x1="23.30" y1="193.80" x2="26.50" y2="193.80" stroke="#6a6a6a" stroke-width="0.6"/>
<line x1="23.30" y1="183.20" x2="26.50" y2="183.20" stroke="#6a6a6a" stroke-width="0.6"/>
<line x1="23.30" y1="172.60" x2="26.50" y2="172.60" stroke="#6a6a6a" stroke-width="0.6"/>
<text transform="translate(19.30,225.60) rotate(-90)" font-family="Liberation Sans, sans-serif" font-size="10" text-anchor="middle" fill="#000" stroke="#000" stroke-width="0.2">0</text>
<text transform="translate(19.30,204.40) rotate(-90)" font-family="Liberation Sans, sans-serif" font-size="10" text-anchor="middle" fill="#000" stroke="#000" stroke-width="0.2">40</text>
<text transform="translate(19.30,183.20) rotate(-90)" font-family="Liberation Sans, sans-serif" font-size="10" text-anchor="middle" fill="#000" stroke="#000" stroke-width="0.2">80</text>
<line x1="36.50" y1="233.40" x2="36.50" y2="237.60" stroke="#6a6a6a" stroke-width="0.6"/>
<text x="36.50" y="244.90" font-family="Liberation Sans, sans-serif" font-size="10" text-anchor="middle" fill="#000" stroke="#000" stroke-width="0.2">1</text>
<line x1="51.50" y1="233.40" x2="51.50" y2="237.60" stroke="#6a6a6a" stroke-width="0.6"/>
<text x="51.50" y="244.90" font-family="Liberation Sans, sans-serif" font-size="10" text-anchor="middle" fill="#000" stroke="#000" stroke-width="0.2">3</text>
<line x1="66.50" y1="233.40" x2="66.50" y2="237.60" stroke="#6a6a6a" stroke-width="0.6"/>
<text x="66.50" y="244.90" font-family="Liberation Sans, sans-serif" font-size="10" text-anchor="middle" fill="#000" stroke="#000" stroke-width="0.2">5</text>
<line x1="81.50" y1="233.40" x2="81.50" y2="237.60" stroke="#6a6a6a" stroke-width="0.6"/>
<text x="81.50" y="244.90" font-family="Liberation Sans, sans-serif" font-size="10" text-anchor="middle" fill="#000" stroke="#000" stroke-width="0.2">7</text>
<rect x="105.40" y="166.77" width="22.70" height="57.93" fill="#e8e8e8"/>
<rect x="128.10" y="166.77" width="37.60" height="57.93" fill="#d2d2d2"/>
<rect x="103.50" y="164.50" width="72.6" height="68.90" fill="none" stroke="#8a8a8a" stroke-width="1"/>
<text x="110.00" y="173.05" font-family="Liberation Sans, sans-serif" font-size="16.5" text-anchor="middle" fill="#000" stroke="#000" stroke-width="0.15">−</text>
<text x="132.80" y="173.00" font-family="Liberation Sans, sans-serif" font-size="13.5" text-anchor="middle" fill="#000" stroke="#000" stroke-width="0.3">π</text>
<path d="M116.1 201.3L125.9 208.6" class="l"/>
<path d="M131.8 210.6L140.2 210.6" class="l"/>
<path d="M146.8 211.0L155.2 212.2" class="l"/>
<path d="M115.9 206.4L126.1 216.3" class="l"/>
<path d="M131.7 219.2L140.3 220.7" class="l"/>
<path d="M146.8 221.0L155.2 220.3" class="l"/>
<path d="M115.9 207.5L126.1 217.6" class="l"/>
<path d="M131.8 220.5L140.2 221.9" class="l"/>
<path d="M146.8 222.1L155.2 221.5" class="l"/>
<path d="M115.8 208.7L126.2 219.7" class="l"/>
<path d="M131.8 222.4L140.2 223.2" class="l"/>
<path d="M146.8 223.2L155.2 222.4" class="l"/>
<path d="M115.8 210.8L126.2 221.9" class="l"/>
<path d="M131.8 224.3L140.2 224.5" class="l"/>
<path d="M146.8 224.5L155.2 224.3" class="l"/>
<path d="M116.5 213.5L125.5 217.3" class="l"/>
<path d="M131.5 220.0L140.5 224.2" class="l"/>
<path d="M146.8 225.6L155.2 225.6" class="l"/>
<circle cx="113.5" cy="199.3" r="1.05" class="c"/>
<circle cx="128.5" cy="210.6" r="1.05" class="c"/>
<circle cx="143.5" cy="210.6" r="1.05" class="c"/>
<circle cx="158.5" cy="212.7" r="1.05" class="c"/>
<circle cx="113.5" cy="204.1" r="1.05" class="c"/>
<circle cx="128.5" cy="218.6" r="1.05" class="c"/>
<circle cx="143.5" cy="221.3" r="1.05" class="c"/>
<circle cx="158.5" cy="220.0" r="1.05" class="c"/>
<circle cx="113.5" cy="205.2" r="1.05" class="c"/>
<circle cx="128.5" cy="220.0" r="1.05" class="c"/>
<circle cx="143.5" cy="222.4" r="1.05" class="c"/>
<circle cx="158.5" cy="221.3" r="1.05" class="c"/>
<circle cx="113.5" cy="206.3" r="1.05" class="c"/>
<circle cx="128.5" cy="222.1" r="1.05" class="c"/>
<circle cx="143.5" cy="223.5" r="1.05" class="c"/>
<circle cx="158.5" cy="222.1" r="1.05" class="c"/>
<circle cx="113.5" cy="208.4" r="1.05" class="c"/>
<circle cx="128.5" cy="224.3" r="1.05" class="c"/>
<circle cx="143.5" cy="224.5" r="1.05" class="c"/>
<circle cx="158.5" cy="224.3" r="1.05" class="c"/>
<circle cx="113.5" cy="212.2" r="1.05" class="c"/>
<circle cx="128.5" cy="218.6" r="1.05" class="c"/>
<circle cx="143.5" cy="225.6" r="1.05" class="c"/>
<circle cx="158.5" cy="225.6" r="1.05" class="c"/>
<text x="158.50" y="231.60" font-family="Liberation Sans, sans-serif" font-size="8" text-anchor="middle" fill="#222">n=6</text>
<line x1="113.50" y1="233.40" x2="113.50" y2="237.60" stroke="#6a6a6a" stroke-width="0.6"/>
<text x="113.50" y="244.90" font-family="Liberation Sans, sans-serif" font-size="10" text-anchor="middle" fill="#000" stroke="#000" stroke-width="0.2">1</text>
<line x1="128.50" y1="233.40" x2="128.50" y2="237.60" stroke="#6a6a6a" stroke-width="0.6"/>
<text x="128.50" y="244.90" font-family="Liberation Sans, sans-serif" font-size="10" text-anchor="middle" fill="#000" stroke="#000" stroke-width="0.2">3</text>
<line x1="143.50" y1="233.40" x2="143.50" y2="237.60" stroke="#6a6a6a" stroke-width="0.6"/>
<text x="143.50" y="244.90" font-family="Liberation Sans, sans-serif" font-size="10" text-anchor="middle" fill="#000" stroke="#000" stroke-width="0.2">5</text>
<line x1="158.50" y1="233.40" x2="158.50" y2="237.60" stroke="#6a6a6a" stroke-width="0.6"/>
<text x="158.50" y="244.90" font-family="Liberation Sans, sans-serif" font-size="10" text-anchor="middle" fill="#000" stroke="#000" stroke-width="0.2">7</text>
<rect x="182.40" y="166.77" width="22.70" height="57.93" fill="#e8e8e8"/>
<rect x="205.10" y="166.77" width="37.60" height="57.93" fill="#d2d2d2"/>
<rect x="180.50" y="164.50" width="72.5" height="68.90" fill="none" stroke="#8a8a8a" stroke-width="1"/>
<text x="187.00" y="175.05" font-family="Liberation Sans, sans-serif" font-size="16.5" text-anchor="middle" fill="#000" stroke="#000" stroke-width="0.15">−</text>
<text x="209.60" y="175.05" font-family="Liberation Sans, sans-serif" font-size="16.5" text-anchor="middle" fill="#000" stroke="#000" stroke-width="0.15">−</text>
<path d="M192.7 192.6L203.3 204.6" class="l"/>
<path d="M208.6 208.1L217.4 211.1" class="l"/>
<path d="M223.8 212.6L232.2 213.9" class="l"/>
<path d="M193.3 202.1L202.7 207.8" class="l"/>
<path d="M208.6 210.5L217.4 213.3" class="l"/>
<path d="M223.7 214.9L232.3 216.4" class="l"/>
<path d="M193.4 203.2L202.6 208.0" class="l"/>
<path d="M208.6 210.5L217.4 213.3" class="l"/>
<path d="M223.6 215.4L232.4 218.6" class="l"/>
<path d="M193.5 205.5L202.5 209.5" class="l"/>
<path d="M208.6 211.9L217.4 214.9" class="l"/>
<path d="M223.3 217.6L232.7 223.3" class="l"/>
<circle cx="190.5" cy="190.2" r="1.05" class="c"/>
<circle cx="205.5" cy="207.1" r="1.05" class="c"/>
<circle cx="220.5" cy="212.2" r="1.05" class="c"/>
<circle cx="235.5" cy="214.3" r="1.05" class="c"/>
<circle cx="190.5" cy="200.4" r="1.05" class="c"/>
<circle cx="205.5" cy="209.5" r="1.05" class="c"/>
<circle cx="220.5" cy="214.3" r="1.05" class="c"/>
<circle cx="235.5" cy="217.0" r="1.05" class="c"/>
<circle cx="190.5" cy="201.7" r="1.05" class="c"/>
<circle cx="205.5" cy="209.5" r="1.05" class="c"/>
<circle cx="220.5" cy="214.3" r="1.05" class="c"/>
<circle cx="235.5" cy="219.7" r="1.05" class="c"/>
<circle cx="190.5" cy="204.1" r="1.05" class="c"/>
<circle cx="205.5" cy="210.8" r="1.05" class="c"/>
<circle cx="220.5" cy="215.9" r="1.05" class="c"/>
<circle cx="235.5" cy="225.1" r="1.05" class="c"/>
<text x="235.50" y="231.60" font-family="Liberation Sans, sans-serif" font-size="8" text-anchor="middle" fill="#222">n=4</text>
<line x1="190.50" y1="233.40" x2="190.50" y2="237.60" stroke="#6a6a6a" stroke-width="0.6"/>
<text x="190.50" y="244.90" font-family="Liberation Sans, sans-serif" font-size="10" text-anchor="middle" fill="#000" stroke="#000" stroke-width="0.2">1</text>
<line x1="205.50" y1="233.40" x2="205.50" y2="237.60" stroke="#6a6a6a" stroke-width="0.6"/>
<text x="205.50" y="244.90" font-family="Liberation Sans, sans-serif" font-size="10" text-anchor="middle" fill="#000" stroke="#000" stroke-width="0.2">3</text>
<line x1="220.50" y1="233.40" x2="220.50" y2="237.60" stroke="#6a6a6a" stroke-width="0.6"/>
<text x="220.50" y="244.90" font-family="Liberation Sans, sans-serif" font-size="10" text-anchor="middle" fill="#000" stroke="#000" stroke-width="0.2">5</text>
<line x1="235.50" y1="233.40" x2="235.50" y2="237.60" stroke="#6a6a6a" stroke-width="0.6"/>
<text x="235.50" y="244.90" font-family="Liberation Sans, sans-serif" font-size="10" text-anchor="middle" fill="#000" stroke="#000" stroke-width="0.2">7</text>
<text x="27.40" y="11.6" font-family="Liberation Sans, sans-serif" font-size="16.2" font-weight="bold" fill="#000" stroke="#000" stroke-width="0.5">A</text>
<text x="138.90" y="10.2" font-family="Liberation Sans, sans-serif" font-size="10.2" text-anchor="middle" fill="#111" stroke="#111" stroke-width="0.3">experiment</text>
<text x="139.35" y="254" font-family="Liberation Sans, sans-serif" font-size="10.2" text-anchor="middle" fill="#111" stroke="#111" stroke-width="0.3">month</text>
<text transform="translate(7.60,123.5) rotate(-90)" font-family="Liberation Sans, sans-serif" font-size="10.1" stroke="#111" stroke-width="0.25" text-anchor="middle" fill="#111">% donor type cells</text>
<rect x="295.40" y="15.75" width="22.70" height="58.65" fill="#e8e8e8"/>
<rect x="318.10" y="15.75" width="37.60" height="58.65" fill="#d2d2d2"/>
<rect x="293.50" y="14.00" width="72.0" height="69.00" fill="none" stroke="#8a8a8a" stroke-width="1"/>
<text x="300.00" y="24.65" font-family="Liberation Sans, sans-serif" font-size="16.5" text-anchor="middle" fill="#000" stroke="#000" stroke-width="0.15">+</text>
<text x="322.60" y="24.65" font-family="Liberation Sans, sans-serif" font-size="16.5" text-anchor="middle" fill="#000" stroke="#000" stroke-width="0.15">+</text>
<path d="M305.2 55.3L316.8 35.1" class="l"/>
<path d="M321.7 31.4L330.3 29.2" class="l"/>
<path d="M336.8 28.1L345.2 27.3" class="l"/>
<path d="M305.1 58.2L316.9 37.9" class="l"/>
<path d="M321.6 33.9L330.4 30.4" class="l"/>
<path d="M336.8 29.3L345.2 29.7" class="l"/>
<path d="M305.5 60.6L316.5 46.6" class="l"/>
<path d="M320.9 41.7L331.1 32.0" class="l"/>
<path d="M336.7 30.3L345.3 31.8" class="l"/>
<path d="M305.5 64.2L316.5 50.2" class="l"/>
<path d="M321.2 45.7L330.8 38.9" class="l"/>
<path d="M336.7 36.3L345.3 34.6" class="l"/>
<path d="M306.3 57.4L315.7 51.5" class="l"/>
<path d="M321.2 47.8L330.8 40.8" class="l"/>
<path d="M336.8 38.3L345.2 36.8" class="l"/>
<path d="M305.0 71.6L317.0 47.1" class="l"/>
<path d="M321.5 42.9L330.5 39.0" class="l"/>
<path d="M336.6 38.8L345.4 41.6" class="l"/>
<path d="M305.2 71.8L316.8 51.9" class="l"/>
<path d="M321.7 48.4L330.3 46.7" class="l"/>
<path d="M336.8 46.0L345.2 45.6" class="l"/>
<path d="M305.6 72.0L316.4 58.7" class="l"/>
<path d="M321.6 54.9L330.4 51.6" class="l"/>
<path d="M336.7 49.5L345.3 47.0" class="l"/>
<path d="M305.7 72.2L316.3 60.6" class="l"/>
<path d="M321.6 57.2L330.4 54.3" class="l"/>
<path d="M336.8 53.2L345.2 53.2" class="l"/>
<path d="M306.7 64.0L315.3 62.4" class="l"/>
<path d="M321.3 60.1L330.7 54.3" class="l"/>
<path d="M336.8 52.6L345.2 52.6" class="l"/>
<circle cx="303.5" cy="58.2" r="1.05" class="c"/>
<circle cx="318.5" cy="32.2" r="1.05" class="c"/>
<circle cx="333.5" cy="28.4" r="1.05" class="c"/>
<circle cx="348.5" cy="27.0" r="1.05" class="c"/>
<circle cx="303.5" cy="61.1" r="1.05" class="c"/>
<circle cx="318.5" cy="35.1" r="1.05" class="c"/>
<circle cx="333.5" cy="29.2" r="1.05" class="c"/>
<circle cx="348.5" cy="29.8" r="1.05" class="c"/>
<circle cx="303.5" cy="63.2" r="1.05" class="c"/>
<circle cx="318.5" cy="44.0" r="1.05" class="c"/>
<circle cx="333.5" cy="29.7" r="1.05" class="c"/>
<circle cx="348.5" cy="32.4" r="1.05" class="c"/>
<circle cx="303.5" cy="66.8" r="1.05" class="c"/>
<circle cx="318.5" cy="47.6" r="1.05" class="c"/>
<circle cx="333.5" cy="36.9" r="1.05" class="c"/>
<circle cx="348.5" cy="34.0" r="1.05" class="c"/>
<circle cx="303.5" cy="59.2" r="1.05" class="c"/>
<circle cx="318.5" cy="49.7" r="1.05" class="c"/>
<circle cx="333.5" cy="38.8" r="1.05" class="c"/>
<circle cx="348.5" cy="36.2" r="1.05" class="c"/>
<circle cx="303.5" cy="74.6" r="1.05" class="c"/>
<circle cx="318.5" cy="44.2" r="1.05" class="c"/>
<circle cx="333.5" cy="37.7" r="1.05" class="c"/>
<circle cx="348.5" cy="42.6" r="1.05" class="c"/>
<circle cx="303.5" cy="74.6" r="1.05" class="c"/>
<circle cx="318.5" cy="49.0" r="1.05" class="c"/>
<circle cx="333.5" cy="46.1" r="1.05" class="c"/>
<circle cx="348.5" cy="45.5" r="1.05" class="c"/>
<circle cx="303.5" cy="74.6" r="1.05" class="c"/>
<circle cx="318.5" cy="56.1" r="1.05" class="c"/>
<circle cx="333.5" cy="50.4" r="1.05" class="c"/>
<circle cx="348.5" cy="46.1" r="1.05" class="c"/>
<circle cx="303.5" cy="74.6" r="1.05" class="c"/>
<circle cx="318.5" cy="58.2" r="1.05" class="c"/>
<circle cx="333.5" cy="53.2" r="1.05" class="c"/>
<circle cx="348.5" cy="53.2" r="1.05" class="c"/>
<circle cx="303.5" cy="64.6" r="1.05" class="c"/>
<circle cx="318.5" cy="61.8" r="1.05" class="c"/>
<circle cx="333.5" cy="52.6" r="1.05" class="c"/>
<circle cx="348.5" cy="52.6" r="1.05" class="c"/>
<text x="348.50" y="81.20" font-family="Liberation Sans, sans-serif" font-size="8" text-anchor="middle" fill="#222">n=10</text>
<line x1="290.30" y1="75.30" x2="293.50" y2="75.30" stroke="#6a6a6a" stroke-width="0.6"/>
<line x1="290.30" y1="64.57" x2="293.50" y2="64.57" stroke="#6a6a6a" stroke-width="0.6"/>
<line x1="290.30" y1="53.84" x2="293.50" y2="53.84" stroke="#6a6a6a" stroke-width="0.6"/>
<line x1="290.30" y1="43.11" x2="293.50" y2="43.11" stroke="#6a6a6a" stroke-width="0.6"/>
<line x1="290.30" y1="32.38" x2="293.50" y2="32.38" stroke="#6a6a6a" stroke-width="0.6"/>
<line x1="290.30" y1="21.65" x2="293.50" y2="21.65" stroke="#6a6a6a" stroke-width="0.6"/>
<text transform="translate(286.30,75.30) rotate(-90)" font-family="Liberation Sans, sans-serif" font-size="10" text-anchor="middle" fill="#000" stroke="#000" stroke-width="0.2">0</text>
<text transform="translate(286.30,53.84) rotate(-90)" font-family="Liberation Sans, sans-serif" font-size="10" text-anchor="middle" fill="#000" stroke="#000" stroke-width="0.2">40</text>
<text transform="translate(286.30,32.38) rotate(-90)" font-family="Liberation Sans, sans-serif" font-size="10" text-anchor="middle" fill="#000" stroke="#000" stroke-width="0.2">80</text>
<rect x="372.40" y="15.75" width="22.70" height="58.65" fill="#e8e8e8"/>
<rect x="395.10" y="15.75" width="37.60" height="58.65" fill="#d2d2d2"/>
<rect x="370.50" y="14.00" width="72.0" height="69.00" fill="none" stroke="#8a8a8a" stroke-width="1"/>
<text x="377.00" y="24.65" font-family="Liberation Sans, sans-serif" font-size="16.5" text-anchor="middle" fill="#000" stroke="#000" stroke-width="0.15">+</text>
<text x="399.80" y="22.50" font-family="Liberation Sans, sans-serif" font-size="13.5" text-anchor="middle" fill="#000" stroke="#000" stroke-width="0.3">π</text>
<path d="M383.4 31.8L392.6 26.5" class="l"/>
<path d="M398.8 24.8L407.2 24.5" class="l"/>
<path d="M413.8 24.5L422.2 24.8" class="l"/>
<path d="M382.7 39.6L393.3 28.4" class="l"/>
<path d="M398.8 25.8L407.2 25.5" class="l"/>
<path d="M413.8 25.8L422.2 26.7" class="l"/>
<path d="M382.4 45.8L393.6 29.7" class="l"/>
<path d="M398.8 26.9L407.2 26.6" class="l"/>
<path d="M413.7 27.1L422.3 28.6" class="l"/>
<path d="M382.2 51.0L393.8 30.9" class="l"/>
<path d="M398.8 28.1L407.2 28.1" class="l"/>
<path d="M413.7 28.8L422.3 30.6" class="l"/>
<path d="M382.0 56.3L394.0 32.1" class="l"/>
<path d="M398.8 29.3L407.2 29.6" class="l"/>
<path d="M413.7 30.5L422.3 32.7" class="l"/>
<path d="M381.8 61.5L394.2 33.3" class="l"/>
<path d="M398.8 30.5L407.2 31.1" class="l"/>
<path d="M413.7 32.2L422.3 34.7" class="l"/>
<path d="M381.7 66.9L394.3 34.4" class="l"/>
<path d="M398.8 31.7L407.2 32.6" class="l"/>
<path d="M413.6 33.9L422.4 36.7" class="l"/>
<path d="M383.3 44.7L392.7 39.2" class="l"/>
<path d="M398.8 37.5L407.2 37.5" class="l"/>
<path d="M413.8 37.7L422.2 38.3" class="l"/>
<path d="M383.5 39.0L392.5 42.9" class="l"/>
<path d="M398.8 43.9L407.2 43.1" class="l"/>
<path d="M413.8 42.7L422.2 42.2" class="l"/>
<path d="M383.8 44.4L392.2 45.0" class="l"/>
<path d="M398.8 45.0L407.2 44.4" class="l"/>
<path d="M413.8 44.1L422.2 43.8" class="l"/>
<path d="M383.7 49.7L392.3 47.2" class="l"/>
<path d="M398.8 46.1L407.2 45.5" class="l"/>
<path d="M413.8 45.3L422.2 45.3" class="l"/>
<path d="M383.3 55.3L392.7 49.2" class="l"/>
<path d="M398.8 47.2L407.2 46.6" class="l"/>
<path d="M413.8 46.3L422.2 46.3" class="l"/>
<path d="M382.8 61.2L393.2 50.8" class="l"/>
<path d="M398.8 48.2L407.2 47.6" class="l"/>
<path d="M413.8 47.5L422.2 47.8" class="l"/>
<path d="M382.5 66.3L393.5 52.2" class="l"/>
<path d="M398.8 49.3L407.2 48.7" class="l"/>
<path d="M413.8 48.7L422.2 49.3" class="l"/>
<path d="M382.3 70.4L393.7 52.9" class="l"/>
<path d="M398.8 50.1L407.2 50.1" class="l"/>
<path d="M413.8 50.2L422.2 50.5" class="l"/>
<path d="M383.8 53.0L392.2 53.6" class="l"/>
<path d="M398.8 53.4L407.2 52.2" class="l"/>
<path d="M413.6 52.7L422.4 55.5" class="l"/>
<path d="M382.7 42.4L393.3 54.3" class="l"/>
<path d="M398.7 56.1L407.3 54.3" class="l"/>
<path d="M413.7 54.6L422.3 57.0" class="l"/>
<path d="M383.8 55.1L392.2 55.8" class="l"/>
<path d="M398.7 55.3L407.3 53.5" class="l"/>
<path d="M413.7 53.7L422.3 56.2" class="l"/>
<path d="M383.7 57.5L392.3 55.9" class="l"/>
<path d="M398.7 54.5L407.3 52.6" class="l"/>
<path d="M413.7 52.8L422.3 55.3" class="l"/>
<path d="M383.8 60.1L392.2 59.6" class="l"/>
<path d="M398.8 59.0L407.2 57.9" class="l"/>
<path d="M413.7 58.2L422.3 60.3" class="l"/>
<path d="M383.7 60.8L392.3 59.2" class="l"/>
<path d="M398.8 58.2L407.2 57.0" class="l"/>
<path d="M413.7 57.3L422.3 59.5" class="l"/>
<path d="M383.7 61.5L392.3 58.9" class="l"/>
<path d="M398.8 57.4L407.2 56.1" class="l"/>
<path d="M413.7 56.4L422.3 58.7" class="l"/>
<path d="M383.8 63.6L392.2 62.5" class="l"/>
<path d="M398.8 61.9L407.2 61.4" class="l"/>
<path d="M413.7 62.0L422.3 64.1" class="l"/>
<path d="M383.7 64.7L392.3 62.3" class="l"/>
<path d="M398.8 61.1L407.2 60.5" class="l"/>
<path d="M413.7 61.1L422.3 63.2" class="l"/>
<path d="M383.6 65.5L392.4 61.8" class="l"/>
<path d="M398.8 60.3L407.2 59.6" class="l"/>
<path d="M413.7 60.2L422.3 62.4" class="l"/>
<path d="M383.8 67.3L392.2 65.9" class="l"/>
<path d="M398.8 65.4L407.2 65.4" class="l"/>
<path d="M413.7 66.2L422.3 67.9" class="l"/>
<path d="M383.7 68.0L392.3 65.5" class="l"/>
<path d="M398.8 64.6L407.2 64.6" class="l"/>
<path d="M413.7 65.3L422.3 67.1" class="l"/>
<path d="M383.6 68.7L392.4 65.1" class="l"/>
<path d="M398.8 63.8L407.2 63.7" class="l"/>
<path d="M413.7 64.4L422.3 66.3" class="l"/>
<path d="M383.7 70.4L392.3 68.7" class="l"/>
<path d="M398.8 68.4L407.2 69.4" class="l"/>
<path d="M413.8 70.2L422.2 71.4" class="l"/>
<path d="M383.6 71.1L392.4 68.3" class="l"/>
<path d="M398.8 67.6L407.2 68.5" class="l"/>
<path d="M413.8 69.3L422.2 70.5" class="l"/>
<path d="M383.5 71.8L392.5 67.8" class="l"/>
<path d="M398.8 66.8L407.2 67.6" class="l"/>
<path d="M413.8 68.4L422.2 69.7" class="l"/>
<path d="M383.7 73.5L392.3 71.4" class="l"/>
<path d="M398.7 71.3L407.3 72.9" class="l"/>
<path d="M413.8 73.8L422.2 74.5" class="l"/>
<path d="M383.6 73.8L392.4 70.9" class="l"/>
<path d="M398.7 70.5L407.3 72.0" class="l"/>
<path d="M413.8 72.9L422.2 73.7" class="l"/>
<path d="M383.6 74.1L392.4 70.4" class="l"/>
<path d="M398.8 69.7L407.2 71.2" class="l"/>
<path d="M413.8 72.0L422.2 72.8" class="l"/>
<circle cx="380.5" cy="33.5" r="1.05" class="c"/>
<circle cx="395.5" cy="24.9" r="1.05" class="c"/>
<circle cx="410.5" cy="24.3" r="1.05" class="c"/>
<circle cx="425.5" cy="24.9" r="1.05" class="c"/>
<circle cx="380.5" cy="42.0" r="1.05" class="c"/>
<circle cx="395.5" cy="25.9" r="1.05" class="c"/>
<circle cx="410.5" cy="25.4" r="1.05" class="c"/>
<circle cx="425.5" cy="27.0" r="1.05" class="c"/>
<circle cx="380.5" cy="48.5" r="1.05" class="c"/>
<circle cx="395.5" cy="27.0" r="1.05" class="c"/>
<circle cx="410.5" cy="26.5" r="1.05" class="c"/>
<circle cx="425.5" cy="29.2" r="1.05" class="c"/>
<circle cx="380.5" cy="53.8" r="1.05" class="c"/>
<circle cx="395.5" cy="28.1" r="1.05" class="c"/>
<circle cx="410.5" cy="28.1" r="1.05" class="c"/>
<circle cx="425.5" cy="31.3" r="1.05" class="c"/>
<circle cx="380.5" cy="59.2" r="1.05" class="c"/>
<circle cx="395.5" cy="29.2" r="1.05" class="c"/>
<circle cx="410.5" cy="29.7" r="1.05" class="c"/>
<circle cx="425.5" cy="33.5" r="1.05" class="c"/>
<circle cx="380.5" cy="64.6" r="1.05" class="c"/>
<circle cx="395.5" cy="30.2" r="1.05" class="c"/>
<circle cx="410.5" cy="31.3" r="1.05" class="c"/>
<circle cx="425.5" cy="35.6" r="1.05" class="c"/>
<circle cx="380.5" cy="69.9" r="1.05" class="c"/>
<circle cx="395.5" cy="31.3" r="1.05" class="c"/>
<circle cx="410.5" cy="32.9" r="1.05" class="c"/>
<circle cx="425.5" cy="37.7" r="1.05" class="c"/>
<circle cx="380.5" cy="46.3" r="1.05" class="c"/>
<circle cx="395.5" cy="37.5" r="1.05" class="c"/>
<circle cx="410.5" cy="37.5" r="1.05" class="c"/>
<circle cx="425.5" cy="38.5" r="1.05" class="c"/>
<circle cx="380.5" cy="37.7" r="1.05" class="c"/>
<circle cx="395.5" cy="44.2" r="1.05" class="c"/>
<circle cx="410.5" cy="42.8" r="1.05" class="c"/>
<circle cx="425.5" cy="42.0" r="1.05" class="c"/>
<circle cx="380.5" cy="44.2" r="1.05" class="c"/>
<circle cx="395.5" cy="45.3" r="1.05" class="c"/>
<circle cx="410.5" cy="44.2" r="1.05" class="c"/>
<circle cx="425.5" cy="43.6" r="1.05" class="c"/>
<circle cx="380.5" cy="50.6" r="1.05" class="c"/>
<circle cx="395.5" cy="46.3" r="1.05" class="c"/>
<circle cx="410.5" cy="45.3" r="1.05" class="c"/>
<circle cx="425.5" cy="45.3" r="1.05" class="c"/>
<circle cx="380.5" cy="57.1" r="1.05" class="c"/>
<circle cx="395.5" cy="47.4" r="1.05" class="c"/>
<circle cx="410.5" cy="46.3" r="1.05" class="c"/>
<circle cx="425.5" cy="46.3" r="1.05" class="c"/>
<circle cx="380.5" cy="63.5" r="1.05" class="c"/>
<circle cx="395.5" cy="48.5" r="1.05" class="c"/>
<circle cx="410.5" cy="47.4" r="1.05" class="c"/>
<circle cx="425.5" cy="47.9" r="1.05" class="c"/>
<circle cx="380.5" cy="68.9" r="1.05" class="c"/>
<circle cx="395.5" cy="49.5" r="1.05" class="c"/>
<circle cx="410.5" cy="48.5" r="1.05" class="c"/>
<circle cx="425.5" cy="49.5" r="1.05" class="c"/>
<circle cx="380.5" cy="73.2" r="1.05" class="c"/>
<circle cx="395.5" cy="50.1" r="1.05" class="c"/>
<circle cx="410.5" cy="50.1" r="1.05" class="c"/>
<circle cx="425.5" cy="50.6" r="1.05" class="c"/>
<circle cx="380.5" cy="52.8" r="1.05" class="c"/>
<circle cx="395.5" cy="53.8" r="1.05" class="c"/>
<circle cx="410.5" cy="51.7" r="1.05" class="c"/>
<circle cx="425.5" cy="56.5" r="1.05" class="c"/>
<circle cx="380.5" cy="39.9" r="1.05" class="c"/>
<circle cx="395.5" cy="56.7" r="1.05" class="c"/>
<circle cx="410.5" cy="53.7" r="1.05" class="c"/>
<circle cx="425.5" cy="57.9" r="1.05" class="c"/>
<circle cx="380.5" cy="54.9" r="1.05" class="c"/>
<circle cx="395.5" cy="56.0" r="1.05" class="c"/>
<circle cx="410.5" cy="52.8" r="1.05" class="c"/>
<circle cx="425.5" cy="57.1" r="1.05" class="c"/>
<circle cx="380.5" cy="58.1" r="1.05" class="c"/>
<circle cx="395.5" cy="55.2" r="1.05" class="c"/>
<circle cx="410.5" cy="51.9" r="1.05" class="c"/>
<circle cx="425.5" cy="56.3" r="1.05" class="c"/>
<circle cx="380.5" cy="60.3" r="1.05" class="c"/>
<circle cx="395.5" cy="59.4" r="1.05" class="c"/>
<circle cx="410.5" cy="57.4" r="1.05" class="c"/>
<circle cx="425.5" cy="61.1" r="1.05" class="c"/>
<circle cx="380.5" cy="61.4" r="1.05" class="c"/>
<circle cx="395.5" cy="58.7" r="1.05" class="c"/>
<circle cx="410.5" cy="56.5" r="1.05" class="c"/>
<circle cx="425.5" cy="60.3" r="1.05" class="c"/>
<circle cx="380.5" cy="62.4" r="1.05" class="c"/>
<circle cx="395.5" cy="57.9" r="1.05" class="c"/>
<circle cx="410.5" cy="55.6" r="1.05" class="c"/>
<circle cx="425.5" cy="59.5" r="1.05" class="c"/>
<circle cx="380.5" cy="64.0" r="1.05" class="c"/>
<circle cx="395.5" cy="62.1" r="1.05" class="c"/>
<circle cx="410.5" cy="61.2" r="1.05" class="c"/>
<circle cx="425.5" cy="64.8" r="1.05" class="c"/>
<circle cx="380.5" cy="65.6" r="1.05" class="c"/>
<circle cx="395.5" cy="61.4" r="1.05" class="c"/>
<circle cx="410.5" cy="60.3" r="1.05" class="c"/>
<circle cx="425.5" cy="64.0" r="1.05" class="c"/>
<circle cx="380.5" cy="66.7" r="1.05" class="c"/>
<circle cx="395.5" cy="60.6" r="1.05" class="c"/>
<circle cx="410.5" cy="59.4" r="1.05" class="c"/>
<circle cx="425.5" cy="63.2" r="1.05" class="c"/>
<circle cx="380.5" cy="67.8" r="1.05" class="c"/>
<circle cx="395.5" cy="65.3" r="1.05" class="c"/>
<circle cx="410.5" cy="65.5" r="1.05" class="c"/>
<circle cx="425.5" cy="68.6" r="1.05" class="c"/>
<circle cx="380.5" cy="68.9" r="1.05" class="c"/>
<circle cx="395.5" cy="64.6" r="1.05" class="c"/>
<circle cx="410.5" cy="64.6" r="1.05" class="c"/>
<circle cx="425.5" cy="67.8" r="1.05" class="c"/>
<circle cx="380.5" cy="69.9" r="1.05" class="c"/>
<circle cx="395.5" cy="63.8" r="1.05" class="c"/>
<circle cx="410.5" cy="63.7" r="1.05" class="c"/>
<circle cx="425.5" cy="67.0" r="1.05" class="c"/>
<circle cx="380.5" cy="71.0" r="1.05" class="c"/>
<circle cx="395.5" cy="68.0" r="1.05" class="c"/>
<circle cx="410.5" cy="69.8" r="1.05" class="c"/>
<circle cx="425.5" cy="71.8" r="1.05" class="c"/>
<circle cx="380.5" cy="72.1" r="1.05" class="c"/>
<circle cx="395.5" cy="67.3" r="1.05" class="c"/>
<circle cx="410.5" cy="68.9" r="1.05" class="c"/>
<circle cx="425.5" cy="71.0" r="1.05" class="c"/>
<circle cx="380.5" cy="73.2" r="1.05" class="c"/>
<circle cx="395.5" cy="66.5" r="1.05" class="c"/>
<circle cx="410.5" cy="67.9" r="1.05" class="c"/>
<circle cx="425.5" cy="70.2" r="1.05" class="c"/>
<circle cx="380.5" cy="74.2" r="1.05" class="c"/>
<circle cx="395.5" cy="70.7" r="1.05" class="c"/>
<circle cx="410.5" cy="73.5" r="1.05" class="c"/>
<circle cx="425.5" cy="74.8" r="1.05" class="c"/>
<circle cx="380.5" cy="74.8" r="1.05" class="c"/>
<circle cx="395.5" cy="69.9" r="1.05" class="c"/>
<circle cx="410.5" cy="72.6" r="1.05" class="c"/>
<circle cx="425.5" cy="74.0" r="1.05" class="c"/>
<circle cx="380.5" cy="75.3" r="1.05" class="c"/>
<circle cx="395.5" cy="69.2" r="1.05" class="c"/>
<circle cx="410.5" cy="71.7" r="1.05" class="c"/>
<circle cx="425.5" cy="73.2" r="1.05" class="c"/>
<text x="425.50" y="81.20" font-family="Liberation Sans, sans-serif" font-size="8" text-anchor="middle" fill="#222">n=34</text>
<rect x="449.40" y="15.75" width="22.70" height="58.65" fill="#e8e8e8"/>
<rect x="472.10" y="15.75" width="37.60" height="58.65" fill="#d2d2d2"/>
<rect x="447.50" y="14.00" width="72.0" height="69.00" fill="none" stroke="#8a8a8a" stroke-width="1"/>
<text x="454.00" y="24.65" font-family="Liberation Sans, sans-serif" font-size="16.5" text-anchor="middle" fill="#000" stroke="#000" stroke-width="0.15">+</text>
<text x="476.60" y="24.65" font-family="Liberation Sans, sans-serif" font-size="16.5" text-anchor="middle" fill="#000" stroke="#000" stroke-width="0.15">−</text>
<path d="M459.9 44.2L470.1 34.1" class="l"/>
<path d="M475.7 32.8L484.3 35.4" class="l"/>
<path d="M490.7 37.3L499.3 40.0" class="l"/>
<path d="M460.5 39.0L469.5 34.8" class="l"/>
<path d="M475.6 34.6L484.4 37.7" class="l"/>
<path d="M490.5 40.1L499.5 44.0" class="l"/>
<path d="M459.5 52.3L470.5 38.2" class="l"/>
<path d="M475.6 36.8L484.4 40.3" class="l"/>
<path d="M490.8 41.9L499.2 42.8" class="l"/>
<path d="M460.5 43.1L469.5 39.1" class="l"/>
<path d="M475.5 39.0L484.5 42.9" class="l"/>
<path d="M490.6 45.2L499.4 48.0" class="l"/>
<path d="M460.1 56.1L469.9 48.5" class="l"/>
<path d="M475.8 46.0L484.2 44.9" class="l"/>
<path d="M490.8 44.7L499.2 45.2" class="l"/>
<path d="M460.1 57.8L469.9 50.5" class="l"/>
<path d="M475.8 48.8L484.2 49.7" class="l"/>
<path d="M490.8 50.3L499.2 50.9" class="l"/>
<path d="M460.1 59.4L469.9 52.1" class="l"/>
<path d="M475.8 50.3L484.2 50.9" class="l"/>
<path d="M490.7 51.7L499.3 53.3" class="l"/>
<path d="M460.1 61.0L469.9 53.7" class="l"/>
<path d="M475.8 51.8L484.2 52.1" class="l"/>
<path d="M490.7 53.0L499.3 54.9" class="l"/>
<path d="M460.8 52.9L469.2 53.2" class="l"/>
<path d="M475.8 53.4L484.2 53.7" class="l"/>
<path d="M490.8 53.4L499.2 52.2" class="l"/>
<path d="M460.3 62.8L469.7 56.7" class="l"/>
<path d="M475.8 55.0L484.2 55.3" class="l"/>
<path d="M490.6 56.5L499.4 59.3" class="l"/>
<path d="M460.8 56.5L469.2 56.5" class="l"/>
<path d="M475.8 56.8L484.2 57.4" class="l"/>
<path d="M490.8 57.8L499.2 58.4" class="l"/>
<path d="M460.1 67.4L469.9 60.1" class="l"/>
<path d="M475.8 58.4L484.2 59.0" class="l"/>
<path d="M490.7 59.9L499.3 61.7" class="l"/>
<path d="M460.4 66.2L469.6 61.3" class="l"/>
<path d="M475.8 60.0L484.2 60.6" class="l"/>
<path d="M490.7 61.8L499.3 64.4" class="l"/>
<path d="M460.6 65.2L469.4 62.4" class="l"/>
<path d="M475.8 61.6L484.2 62.2" class="l"/>
<path d="M490.5 63.8L499.5 68.0" class="l"/>
<path d="M460.4 69.4L469.6 64.5" class="l"/>
<path d="M475.8 63.2L484.2 63.8" class="l"/>
<path d="M490.7 64.7L499.3 66.6" class="l"/>
<path d="M460.3 72.4L469.7 66.4" class="l"/>
<path d="M475.8 64.8L484.2 65.4" class="l"/>
<path d="M490.6 66.8L499.4 69.9" class="l"/>
<path d="M460.3 73.5L469.7 67.4" class="l"/>
<path d="M475.8 65.9L484.2 66.5" class="l"/>
<path d="M490.6 67.9L499.4 71.4" class="l"/>
<path d="M460.5 71.4L469.5 67.7" class="l"/>
<path d="M475.8 66.6L484.2 67.2" class="l"/>
<path d="M490.5 68.8L499.5 72.7" class="l"/>
<circle cx="457.5" cy="46.5" r="1.05" class="c"/>
<circle cx="472.5" cy="31.8" r="1.05" class="c"/>
<circle cx="487.5" cy="36.3" r="1.05" class="c"/>
<circle cx="502.5" cy="41.0" r="1.05" class="c"/>
<circle cx="457.5" cy="40.4" r="1.05" class="c"/>
<circle cx="472.5" cy="33.5" r="1.05" class="c"/>
<circle cx="487.5" cy="38.8" r="1.05" class="c"/>
<circle cx="502.5" cy="45.3" r="1.05" class="c"/>
<circle cx="457.5" cy="54.9" r="1.05" class="c"/>
<circle cx="472.5" cy="35.6" r="1.05" class="c"/>
<circle cx="487.5" cy="41.5" r="1.05" class="c"/>
<circle cx="502.5" cy="43.1" r="1.05" class="c"/>
<circle cx="457.5" cy="44.5" r="1.05" class="c"/>
<circle cx="472.5" cy="37.7" r="1.05" class="c"/>
<circle cx="487.5" cy="44.2" r="1.05" class="c"/>
<circle cx="502.5" cy="49.0" r="1.05" class="c"/>
<circle cx="457.5" cy="58.1" r="1.05" class="c"/>
<circle cx="472.5" cy="46.5" r="1.05" class="c"/>
<circle cx="487.5" cy="44.5" r="1.05" class="c"/>
<circle cx="502.5" cy="45.5" r="1.05" class="c"/>
<circle cx="457.5" cy="59.7" r="1.05" class="c"/>
<circle cx="472.5" cy="48.5" r="1.05" class="c"/>
<circle cx="487.5" cy="50.1" r="1.05" class="c"/>
<circle cx="502.5" cy="51.2" r="1.05" class="c"/>
<circle cx="457.5" cy="61.4" r="1.05" class="c"/>
<circle cx="472.5" cy="50.1" r="1.05" class="c"/>
<circle cx="487.5" cy="51.2" r="1.05" class="c"/>
<circle cx="502.5" cy="53.8" r="1.05" class="c"/>
<circle cx="457.5" cy="63.0" r="1.05" class="c"/>
<circle cx="472.5" cy="51.7" r="1.05" class="c"/>
<circle cx="487.5" cy="52.2" r="1.05" class="c"/>
<circle cx="502.5" cy="55.7" r="1.05" class="c"/>
<circle cx="457.5" cy="52.8" r="1.05" class="c"/>
<circle cx="472.5" cy="53.3" r="1.05" class="c"/>
<circle cx="487.5" cy="53.8" r="1.05" class="c"/>
<circle cx="502.5" cy="51.7" r="1.05" class="c"/>
<circle cx="457.5" cy="64.6" r="1.05" class="c"/>
<circle cx="472.5" cy="54.9" r="1.05" class="c"/>
<circle cx="487.5" cy="55.4" r="1.05" class="c"/>
<circle cx="502.5" cy="60.3" r="1.05" class="c"/>
<circle cx="457.5" cy="56.5" r="1.05" class="c"/>
<circle cx="472.5" cy="56.5" r="1.05" class="c"/>
<circle cx="487.5" cy="57.6" r="1.05" class="c"/>
<circle cx="502.5" cy="58.7" r="1.05" class="c"/>
<circle cx="457.5" cy="69.4" r="1.05" class="c"/>
<circle cx="472.5" cy="58.1" r="1.05" class="c"/>
<circle cx="487.5" cy="59.2" r="1.05" class="c"/>
<circle cx="502.5" cy="62.4" r="1.05" class="c"/>
<circle cx="457.5" cy="67.8" r="1.05" class="c"/>
<circle cx="472.5" cy="59.7" r="1.05" class="c"/>
<circle cx="487.5" cy="60.8" r="1.05" class="c"/>
<circle cx="502.5" cy="65.4" r="1.05" class="c"/>
<circle cx="457.5" cy="66.2" r="1.05" class="c"/>
<circle cx="472.5" cy="61.4" r="1.05" class="c"/>
<circle cx="487.5" cy="62.4" r="1.05" class="c"/>
<circle cx="502.5" cy="69.4" r="1.05" class="c"/>
<circle cx="457.5" cy="71.0" r="1.05" class="c"/>
<circle cx="472.5" cy="63.0" r="1.05" class="c"/>
<circle cx="487.5" cy="64.0" r="1.05" class="c"/>
<circle cx="502.5" cy="67.3" r="1.05" class="c"/>
<circle cx="457.5" cy="74.2" r="1.05" class="c"/>
<circle cx="472.5" cy="64.6" r="1.05" class="c"/>
<circle cx="487.5" cy="65.6" r="1.05" class="c"/>
<circle cx="502.5" cy="71.0" r="1.05" class="c"/>
<circle cx="457.5" cy="75.3" r="1.05" class="c"/>
<circle cx="472.5" cy="65.6" r="1.05" class="c"/>
<circle cx="487.5" cy="66.7" r="1.05" class="c"/>
<circle cx="502.5" cy="72.6" r="1.05" class="c"/>
<circle cx="457.5" cy="72.6" r="1.05" class="c"/>
<circle cx="472.5" cy="66.4" r="1.05" class="c"/>
<circle cx="487.5" cy="67.4" r="1.05" class="c"/>
<circle cx="502.5" cy="74.1" r="1.05" class="c"/>
<text x="502.50" y="81.20" font-family="Liberation Sans, sans-serif" font-size="8" text-anchor="middle" fill="#222">n=18</text>
<rect x="295.40" y="91.57" width="22.70" height="57.93" fill="#e8e8e8"/>
<rect x="318.10" y="91.57" width="37.60" height="57.93" fill="#d2d2d2"/>
<rect x="293.50" y="89.00" width="72.0" height="69.50" fill="none" stroke="#8a8a8a" stroke-width="1"/>
<text x="300.20" y="98.00" font-family="Liberation Sans, sans-serif" font-size="13.5" text-anchor="middle" fill="#000" stroke="#000" stroke-width="0.3">π</text>
<text x="322.60" y="99.85" font-family="Liberation Sans, sans-serif" font-size="16.5" text-anchor="middle" fill="#000" stroke="#000" stroke-width="0.15">+</text>
<path d="M306.8 149.4L315.2 148.2" class="l"/>
<path d="M321.6 146.5L330.4 143.0" class="l"/>
<path d="M336.8 141.7L345.2 141.4" class="l"/>
<circle cx="303.5" cy="149.9" r="1.05" class="c"/>
<circle cx="318.5" cy="147.7" r="1.05" class="c"/>
<circle cx="333.5" cy="141.8" r="1.05" class="c"/>
<circle cx="348.5" cy="141.3" r="1.05" class="c"/>
<text x="348.50" y="156.70" font-family="Liberation Sans, sans-serif" font-size="8" text-anchor="middle" fill="#222">n=1</text>
<line x1="290.30" y1="150.40" x2="293.50" y2="150.40" stroke="#6a6a6a" stroke-width="0.6"/>
<line x1="290.30" y1="139.80" x2="293.50" y2="139.80" stroke="#6a6a6a" stroke-width="0.6"/>
<line x1="290.30" y1="129.20" x2="293.50" y2="129.20" stroke="#6a6a6a" stroke-width="0.6"/>
<line x1="290.30" y1="118.60" x2="293.50" y2="118.60" stroke="#6a6a6a" stroke-width="0.6"/>
<line x1="290.30" y1="108.00" x2="293.50" y2="108.00" stroke="#6a6a6a" stroke-width="0.6"/>
<line x1="290.30" y1="97.40" x2="293.50" y2="97.40" stroke="#6a6a6a" stroke-width="0.6"/>
<text transform="translate(286.30,150.40) rotate(-90)" font-family="Liberation Sans, sans-serif" font-size="10" text-anchor="middle" fill="#000" stroke="#000" stroke-width="0.2">0</text>
<text transform="translate(286.30,129.20) rotate(-90)" font-family="Liberation Sans, sans-serif" font-size="10" text-anchor="middle" fill="#000" stroke="#000" stroke-width="0.2">40</text>
<text transform="translate(286.30,108.00) rotate(-90)" font-family="Liberation Sans, sans-serif" font-size="10" text-anchor="middle" fill="#000" stroke="#000" stroke-width="0.2">80</text>
<rect x="372.40" y="91.57" width="22.70" height="57.93" fill="#e8e8e8"/>
<rect x="395.10" y="91.57" width="37.60" height="57.93" fill="#d2d2d2"/>
<rect x="370.50" y="89.00" width="72.0" height="69.50" fill="none" stroke="#8a8a8a" stroke-width="1"/>
<text x="377.20" y="98.00" font-family="Liberation Sans, sans-serif" font-size="13.5" text-anchor="middle" fill="#000" stroke="#000" stroke-width="0.3">π</text>
<text x="399.80" y="98.00" font-family="Liberation Sans, sans-serif" font-size="13.5" text-anchor="middle" fill="#000" stroke="#000" stroke-width="0.3">π</text>
<path d="M383.7 115.0L392.3 117.1" class="l"/>
<path d="M398.8 118.0L407.2 118.1" class="l"/>
<path d="M413.8 118.1L422.2 118.0" class="l"/>
<path d="M383.8 128.1L392.2 128.9" class="l"/>
<path d="M398.8 128.9L407.2 128.1" class="l"/>
<path d="M413.7 127.0L422.3 124.9" class="l"/>
<path d="M383.8 137.5L392.2 138.9" class="l"/>
<path d="M398.8 139.7L407.2 140.4" class="l"/>
<path d="M413.8 141.1L422.2 142.0" class="l"/>
<path d="M383.8 142.1L392.2 143.4" class="l"/>
<path d="M398.8 144.1L407.2 144.4" class="l"/>
<path d="M413.8 144.7L422.2 145.1" class="l"/>
<path d="M383.8 144.8L392.2 145.8" class="l"/>
<path d="M398.8 146.0L407.2 145.7" class="l"/>
<path d="M413.8 145.7L422.2 146.0" class="l"/>
<path d="M383.8 147.1L392.2 147.0" class="l"/>
<path d="M398.8 147.0L407.2 147.1" class="l"/>
<path d="M413.8 147.2L422.2 147.2" class="l"/>
<path d="M383.8 147.3L392.2 147.6" class="l"/>
<path d="M398.8 147.7L407.2 147.7" class="l"/>
<path d="M413.8 147.8L422.2 147.9" class="l"/>
<path d="M383.8 149.5L392.2 148.6" class="l"/>
<path d="M398.8 148.3L407.2 148.3" class="l"/>
<path d="M413.8 148.4L422.2 148.7" class="l"/>
<path d="M383.8 149.6L392.2 149.0" class="l"/>
<path d="M398.8 148.8L407.2 148.8" class="l"/>
<path d="M413.8 148.9L422.2 149.2" class="l"/>
<path d="M383.8 149.7L392.2 149.4" class="l"/>
<path d="M398.8 149.3L407.2 149.3" class="l"/>
<path d="M413.8 149.4L422.2 149.7" class="l"/>
<path d="M383.8 150.3L392.2 150.0" class="l"/>
<path d="M398.8 149.9L407.2 149.9" class="l"/>
<path d="M413.8 149.9L422.2 149.9" class="l"/>
<path d="M383.8 150.4L392.2 150.4" class="l"/>
<path d="M398.8 150.3L407.2 150.0" class="l"/>
<path d="M413.8 150.0L422.2 150.3" class="l"/>
<circle cx="380.5" cy="114.2" r="1.05" class="c"/>
<circle cx="395.5" cy="117.9" r="1.05" class="c"/>
<circle cx="410.5" cy="118.2" r="1.05" class="c"/>
<circle cx="425.5" cy="117.9" r="1.05" class="c"/>
<circle cx="380.5" cy="127.8" r="1.05" class="c"/>
<circle cx="395.5" cy="129.2" r="1.05" class="c"/>
<circle cx="410.5" cy="127.8" r="1.05" class="c"/>
<circle cx="425.5" cy="124.1" r="1.05" class="c"/>
<circle cx="380.5" cy="137.0" r="1.05" class="c"/>
<circle cx="395.5" cy="139.4" r="1.05" class="c"/>
<circle cx="410.5" cy="140.7" r="1.05" class="c"/>
<circle cx="425.5" cy="142.3" r="1.05" class="c"/>
<circle cx="380.5" cy="141.5" r="1.05" class="c"/>
<circle cx="395.5" cy="144.0" r="1.05" class="c"/>
<circle cx="410.5" cy="144.5" r="1.05" class="c"/>
<circle cx="425.5" cy="145.3" r="1.05" class="c"/>
<circle cx="380.5" cy="144.5" r="1.05" class="c"/>
<circle cx="395.5" cy="146.1" r="1.05" class="c"/>
<circle cx="410.5" cy="145.6" r="1.05" class="c"/>
<circle cx="425.5" cy="146.1" r="1.05" class="c"/>
<circle cx="380.5" cy="147.2" r="1.05" class="c"/>
<circle cx="395.5" cy="146.9" r="1.05" class="c"/>
<circle cx="410.5" cy="147.2" r="1.05" class="c"/>
<circle cx="425.5" cy="147.2" r="1.05" class="c"/>
<circle cx="380.5" cy="147.2" r="1.05" class="c"/>
<circle cx="395.5" cy="147.7" r="1.05" class="c"/>
<circle cx="410.5" cy="147.7" r="1.05" class="c"/>
<circle cx="425.5" cy="148.0" r="1.05" class="c"/>
<circle cx="380.5" cy="149.9" r="1.05" class="c"/>
<circle cx="395.5" cy="148.3" r="1.05" class="c"/>
<circle cx="410.5" cy="148.3" r="1.05" class="c"/>
<circle cx="425.5" cy="148.8" r="1.05" class="c"/>
<circle cx="380.5" cy="149.9" r="1.05" class="c"/>
<circle cx="395.5" cy="148.8" r="1.05" class="c"/>
<circle cx="410.5" cy="148.8" r="1.05" class="c"/>
<circle cx="425.5" cy="149.3" r="1.05" class="c"/>
<circle cx="380.5" cy="149.9" r="1.05" class="c"/>
<circle cx="395.5" cy="149.3" r="1.05" class="c"/>
<circle cx="410.5" cy="149.3" r="1.05" class="c"/>
<circle cx="425.5" cy="149.9" r="1.05" class="c"/>
<circle cx="380.5" cy="150.4" r="1.05" class="c"/>
<circle cx="395.5" cy="149.9" r="1.05" class="c"/>
<circle cx="410.5" cy="149.9" r="1.05" class="c"/>
<circle cx="425.5" cy="149.9" r="1.05" class="c"/>
<circle cx="380.5" cy="150.4" r="1.05" class="c"/>
<circle cx="395.5" cy="150.4" r="1.05" class="c"/>
<circle cx="410.5" cy="149.9" r="1.05" class="c"/>
<circle cx="425.5" cy="150.4" r="1.05" class="c"/>
<text x="425.50" y="156.70" font-family="Liberation Sans, sans-serif" font-size="8" text-anchor="middle" fill="#222">n=12</text>
<rect x="449.40" y="91.57" width="22.70" height="57.93" fill="#e8e8e8"/>
<rect x="472.10" y="91.57" width="37.60" height="57.93" fill="#d2d2d2"/>
<rect x="447.50" y="89.00" width="72.0" height="69.50" fill="none" stroke="#8a8a8a" stroke-width="1"/>
<text x="454.20" y="98.00" font-family="Liberation Sans, sans-serif" font-size="13.5" text-anchor="middle" fill="#000" stroke="#000" stroke-width="0.3">π</text>
<text x="476.60" y="98.45" font-family="Liberation Sans, sans-serif" font-size="16.5" text-anchor="middle" fill="#000" stroke="#000" stroke-width="0.15">−</text>
<path d="M460.8 123.2L469.2 122.9" class="l"/>
<path d="M475.6 123.9L484.4 127.2" class="l"/>
<path d="M490.4 129.9L499.6 134.9" class="l"/>
<path d="M460.7 135.9L469.3 134.3" class="l"/>
<path d="M475.7 134.6L484.3 136.9" class="l"/>
<path d="M490.3 139.5L499.7 145.2" class="l"/>
<path d="M460.8 136.6L469.2 135.7" class="l"/>
<path d="M475.5 136.8L484.5 141.4" class="l"/>
<path d="M490.6 144.0L499.4 147.1" class="l"/>
<path d="M460.7 138.4L469.3 140.7" class="l"/>
<path d="M475.7 142.2L484.3 143.9" class="l"/>
<path d="M490.7 145.3L499.3 147.7" class="l"/>
<circle cx="457.5" cy="123.3" r="1.05" class="c"/>
<circle cx="472.5" cy="122.7" r="1.05" class="c"/>
<circle cx="487.5" cy="128.4" r="1.05" class="c"/>
<circle cx="502.5" cy="136.4" r="1.05" class="c"/>
<circle cx="457.5" cy="136.4" r="1.05" class="c"/>
<circle cx="472.5" cy="133.8" r="1.05" class="c"/>
<circle cx="487.5" cy="137.8" r="1.05" class="c"/>
<circle cx="502.5" cy="146.9" r="1.05" class="c"/>
<circle cx="457.5" cy="137.0" r="1.05" class="c"/>
<circle cx="472.5" cy="135.4" r="1.05" class="c"/>
<circle cx="487.5" cy="142.9" r="1.05" class="c"/>
<circle cx="502.5" cy="148.3" r="1.05" class="c"/>
<circle cx="457.5" cy="137.5" r="1.05" class="c"/>
<circle cx="472.5" cy="141.5" r="1.05" class="c"/>
<circle cx="487.5" cy="144.5" r="1.05" class="c"/>
<circle cx="502.5" cy="148.5" r="1.05" class="c"/>
<text x="502.50" y="156.70" font-family="Liberation Sans, sans-serif" font-size="8" text-anchor="middle" fill="#222">n=4</text>
<rect x="295.40" y="166.77" width="22.70" height="57.93" fill="#e8e8e8"/>
<rect x="318.10" y="166.77" width="37.60" height="57.93" fill="#d2d2d2"/>
<rect x="293.50" y="164.50" width="72.0" height="68.90" fill="none" stroke="#8a8a8a" stroke-width="1"/>
<text x="300.00" y="175.05" font-family="Liberation Sans, sans-serif" font-size="16.5" text-anchor="middle" fill="#000" stroke="#000" stroke-width="0.15">−</text>
<text x="322.60" y="175.05" font-family="Liberation Sans, sans-serif" font-size="16.5" text-anchor="middle" fill="#000" stroke="#000" stroke-width="0.15">+</text>
<path d="M306.5 180.0L315.5 184.4" class="l"/>
<path d="M321.5 184.6L330.5 180.7" class="l"/>
<path d="M336.7 178.6L345.3 176.5" class="l"/>
<circle cx="303.5" cy="178.6" r="1.05" class="c"/>
<circle cx="318.5" cy="185.9" r="1.05" class="c"/>
<circle cx="333.5" cy="179.4" r="1.05" class="c"/>
<circle cx="348.5" cy="175.7" r="1.05" class="c"/>
<text x="348.50" y="231.60" font-family="Liberation Sans, sans-serif" font-size="8" text-anchor="middle" fill="#222">n=1</text>
<line x1="290.30" y1="225.60" x2="293.50" y2="225.60" stroke="#6a6a6a" stroke-width="0.6"/>
<line x1="290.30" y1="215.00" x2="293.50" y2="215.00" stroke="#6a6a6a" stroke-width="0.6"/>
<line x1="290.30" y1="204.40" x2="293.50" y2="204.40" stroke="#6a6a6a" stroke-width="0.6"/>
<line x1="290.30" y1="193.80" x2="293.50" y2="193.80" stroke="#6a6a6a" stroke-width="0.6"/>
<line x1="290.30" y1="183.20" x2="293.50" y2="183.20" stroke="#6a6a6a" stroke-width="0.6"/>
<line x1="290.30" y1="172.60" x2="293.50" y2="172.60" stroke="#6a6a6a" stroke-width="0.6"/>
<text transform="translate(286.30,225.60) rotate(-90)" font-family="Liberation Sans, sans-serif" font-size="10" text-anchor="middle" fill="#000" stroke="#000" stroke-width="0.2">0</text>
<text transform="translate(286.30,204.40) rotate(-90)" font-family="Liberation Sans, sans-serif" font-size="10" text-anchor="middle" fill="#000" stroke="#000" stroke-width="0.2">40</text>
<text transform="translate(286.30,183.20) rotate(-90)" font-family="Liberation Sans, sans-serif" font-size="10" text-anchor="middle" fill="#000" stroke="#000" stroke-width="0.2">80</text>
<line x1="303.50" y1="233.40" x2="303.50" y2="237.60" stroke="#6a6a6a" stroke-width="0.6"/>
<text x="303.50" y="244.90" font-family="Liberation Sans, sans-serif" font-size="10" text-anchor="middle" fill="#000" stroke="#000" stroke-width="0.2">1</text>
<line x1="318.50" y1="233.40" x2="318.50" y2="237.60" stroke="#6a6a6a" stroke-width="0.6"/>
<text x="318.50" y="244.90" font-family="Liberation Sans, sans-serif" font-size="10" text-anchor="middle" fill="#000" stroke="#000" stroke-width="0.2">3</text>
<line x1="333.50" y1="233.40" x2="333.50" y2="237.60" stroke="#6a6a6a" stroke-width="0.6"/>
<text x="333.50" y="244.90" font-family="Liberation Sans, sans-serif" font-size="10" text-anchor="middle" fill="#000" stroke="#000" stroke-width="0.2">5</text>
<line x1="348.50" y1="233.40" x2="348.50" y2="237.60" stroke="#6a6a6a" stroke-width="0.6"/>
<text x="348.50" y="244.90" font-family="Liberation Sans, sans-serif" font-size="10" text-anchor="middle" fill="#000" stroke="#000" stroke-width="0.2">7</text>
<rect x="372.40" y="166.77" width="22.70" height="57.93" fill="#e8e8e8"/>
<rect x="395.10" y="166.77" width="37.60" height="57.93" fill="#d2d2d2"/>
<rect x="370.50" y="164.50" width="72.0" height="68.90" fill="none" stroke="#8a8a8a" stroke-width="1"/>
<text x="377.00" y="173.05" font-family="Liberation Sans, sans-serif" font-size="16.5" text-anchor="middle" fill="#000" stroke="#000" stroke-width="0.15">−</text>
<text x="399.80" y="173.00" font-family="Liberation Sans, sans-serif" font-size="13.5" text-anchor="middle" fill="#000" stroke="#000" stroke-width="0.3">π</text>
<path d="M383.4 180.9L392.6 185.7" class="l"/>
<path d="M398.6 188.2L407.4 191.0" class="l"/>
<path d="M413.6 191.0L422.4 188.2" class="l"/>
<path d="M382.9 196.0L393.1 205.2" class="l"/>
<path d="M398.7 206.5L407.3 204.0" class="l"/>
<path d="M413.8 203.5L422.2 204.6" class="l"/>
<path d="M383.5 204.0L392.5 208.4" class="l"/>
<path d="M398.7 210.7L407.3 213.1" class="l"/>
<path d="M413.8 214.3L422.2 215.0" class="l"/>
<path d="M383.5 219.5L392.5 223.6" class="l"/>
<path d="M398.8 224.7L407.2 224.0" class="l"/>
<path d="M413.8 224.0L422.2 224.7" class="l"/>
<circle cx="380.5" cy="179.4" r="1.05" class="c"/>
<circle cx="395.5" cy="187.2" r="1.05" class="c"/>
<circle cx="410.5" cy="192.0" r="1.05" class="c"/>
<circle cx="425.5" cy="187.2" r="1.05" class="c"/>
<circle cx="380.5" cy="193.8" r="1.05" class="c"/>
<circle cx="395.5" cy="207.4" r="1.05" class="c"/>
<circle cx="410.5" cy="203.0" r="1.05" class="c"/>
<circle cx="425.5" cy="205.0" r="1.05" class="c"/>
<circle cx="380.5" cy="202.5" r="1.05" class="c"/>
<circle cx="395.5" cy="209.9" r="1.05" class="c"/>
<circle cx="410.5" cy="214.0" r="1.05" class="c"/>
<circle cx="425.5" cy="215.2" r="1.05" class="c"/>
<circle cx="380.5" cy="218.1" r="1.05" class="c"/>
<circle cx="395.5" cy="225.0" r="1.05" class="c"/>
<circle cx="410.5" cy="223.8" r="1.05" class="c"/>
<circle cx="425.5" cy="225.0" r="1.05" class="c"/>
<text x="425.50" y="231.60" font-family="Liberation Sans, sans-serif" font-size="8" text-anchor="middle" fill="#222">n=4</text>
<line x1="380.50" y1="233.40" x2="380.50" y2="237.60" stroke="#6a6a6a" stroke-width="0.6"/>
<text x="380.50" y="244.90" font-family="Liberation Sans, sans-serif" font-size="10" text-anchor="middle" fill="#000" stroke="#000" stroke-width="0.2">1</text>
<line x1="395.50" y1="233.40" x2="395.50" y2="237.60" stroke="#6a6a6a" stroke-width="0.6"/>
<text x="395.50" y="244.90" font-family="Liberation Sans, sans-serif" font-size="10" text-anchor="middle" fill="#000" stroke="#000" stroke-width="0.2">3</text>
<line x1="410.50" y1="233.40" x2="410.50" y2="237.60" stroke="#6a6a6a" stroke-width="0.6"/>
<text x="410.50" y="244.90" font-family="Liberation Sans, sans-serif" font-size="10" text-anchor="middle" fill="#000" stroke="#000" stroke-width="0.2">5</text>
<line x1="425.50" y1="233.40" x2="425.50" y2="237.60" stroke="#6a6a6a" stroke-width="0.6"/>
<text x="425.50" y="244.90" font-family="Liberation Sans, sans-serif" font-size="10" text-anchor="middle" fill="#000" stroke="#000" stroke-width="0.2">7</text>
<rect x="449.40" y="166.77" width="22.70" height="57.93" fill="#e8e8e8"/>
<rect x="472.10" y="166.77" width="37.60" height="57.93" fill="#d2d2d2"/>
<rect x="447.50" y="164.50" width="72.0" height="68.90" fill="none" stroke="#8a8a8a" stroke-width="1"/>
<text x="454.00" y="175.05" font-family="Liberation Sans, sans-serif" font-size="16.5" text-anchor="middle" fill="#000" stroke="#000" stroke-width="0.15">−</text>
<text x="476.60" y="175.05" font-family="Liberation Sans, sans-serif" font-size="16.5" text-anchor="middle" fill="#000" stroke="#000" stroke-width="0.15">−</text>
<path d="M460.3 199.8L469.7 206.1" class="l"/>
<path d="M475.2 209.7L484.8 216.2" class="l"/>
<path d="M490.5 219.5L499.5 223.7" class="l"/>
<path d="M460.4 203.5L469.6 208.2" class="l"/>
<path d="M475.8 210.2L484.2 211.2" class="l"/>
<path d="M490.5 213.0L499.5 217.2" class="l"/>
<path d="M460.6 211.7L469.4 215.0" class="l"/>
<path d="M475.7 217.1L484.3 219.6" class="l"/>
<path d="M490.7 221.4L499.3 223.7" class="l"/>
<circle cx="457.5" cy="197.9" r="1.05" class="c"/>
<circle cx="472.5" cy="207.9" r="1.05" class="c"/>
<circle cx="487.5" cy="218.1" r="1.05" class="c"/>
<circle cx="502.5" cy="225.1" r="1.05" class="c"/>
<circle cx="457.5" cy="202.0" r="1.05" class="c"/>
<circle cx="472.5" cy="209.8" r="1.05" class="c"/>
<circle cx="487.5" cy="211.6" r="1.05" class="c"/>
<circle cx="502.5" cy="218.6" r="1.05" class="c"/>
<circle cx="457.5" cy="210.6" r="1.05" class="c"/>
<circle cx="472.5" cy="216.2" r="1.05" class="c"/>
<circle cx="487.5" cy="220.5" r="1.05" class="c"/>
<circle cx="502.5" cy="224.5" r="1.05" class="c"/>
<text x="502.50" y="231.60" font-family="Liberation Sans, sans-serif" font-size="8" text-anchor="middle" fill="#222">n=3</text>
<line x1="457.50" y1="233.40" x2="457.50" y2="237.60" stroke="#6a6a6a" stroke-width="0.6"/>
<text x="457.50" y="244.90" font-family="Liberation Sans, sans-serif" font-size="10" text-anchor="middle" fill="#000" stroke="#000" stroke-width="0.2">1</text>
<line x1="472.50" y1="233.40" x2="472.50" y2="237.60" stroke="#6a6a6a" stroke-width="0.6"/>
<text x="472.50" y="244.90" font-family="Liberation Sans, sans-serif" font-size="10" text-anchor="middle" fill="#000" stroke="#000" stroke-width="0.2">3</text>
<line x1="487.50" y1="233.40" x2="487.50" y2="237.60" stroke="#6a6a6a" stroke-width="0.6"/>
<text x="487.50" y="244.90" font-family="Liberation Sans, sans-serif" font-size="10" text-anchor="middle" fill="#000" stroke="#000" stroke-width="0.2">5</text>
<line x1="502.50" y1="233.40" x2="502.50" y2="237.60" stroke="#6a6a6a" stroke-width="0.6"/>
<text x="502.50" y="244.90" font-family="Liberation Sans, sans-serif" font-size="10" text-anchor="middle" fill="#000" stroke="#000" stroke-width="0.2">7</text>
<text x="292.30" y="11.6" font-family="Liberation Sans, sans-serif" font-size="16.2" font-weight="bold" fill="#000" stroke="#000" stroke-width="0.5">B</text>
<text x="405.90" y="10.2" font-family="Liberation Sans, sans-serif" font-size="10.2" text-anchor="middle" fill="#111" stroke="#111" stroke-width="0.3">simulation</text>
<text x="406.35" y="254" font-family="Liberation Sans, sans-serif" font-size="10.2" text-anchor="middle" fill="#111" stroke="#111" stroke-width="0.3">month</text>
<text transform="translate(274.00,123.5) rotate(-90)" font-family="Liberation Sans, sans-serif" font-size="10.1" stroke="#111" stroke-width="0.25" text-anchor="middle" fill="#111">% donor type cells</text>
</svg>
</body></html>
